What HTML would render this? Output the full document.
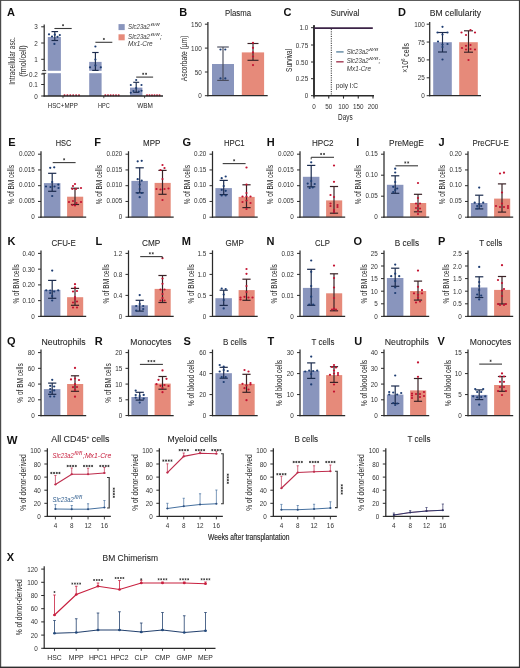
<!DOCTYPE html>
<html><head><meta charset="utf-8"><title>Figure</title>
<style>html,body{margin:0;padding:0;background:#fff;}svg{display:block;will-change:transform;}
text{font-family:"Liberation Sans", sans-serif;}</style></head>
<body>
<svg width="520" height="668" viewBox="0 0 520 668" font-family='"Liberation Sans", sans-serif'>
<rect x="0" y="0" width="520" height="668" fill="#ffffff"/>
<text x="6.9" y="16.3" font-size="11" font-weight="bold" fill="#111">A</text>
<text x="11.6" y="61" font-size="8.8" text-anchor="middle" fill="#1f1f1f" dominant-baseline="central" textLength="47.5" lengthAdjust="spacingAndGlyphs" transform="rotate(-90 11.6 61)" >Intracellular asc.</text>
<text x="23" y="61" font-size="8.8" text-anchor="middle" fill="#1f1f1f" dominant-baseline="central" textLength="31.5" lengthAdjust="spacingAndGlyphs" transform="rotate(-90 23 61)" >(fmol/cell)</text>
<rect x="47.8" y="37" width="13.1" height="59" fill="#8995BD"/>
<rect x="89.2" y="61.9" width="12.4" height="34.1" fill="#8995BD"/>
<rect x="130" y="87.6" width="12.4" height="8.4" fill="#8995BD"/>
<rect x="46" y="70.8" width="60" height="2.4" fill="#ffffff"/>
<line x1="54.8" y1="31.6" x2="54.8" y2="40.5" stroke="#1B2B4D" stroke-width="1.15" />
<line x1="51.5" y1="31.6" x2="58.1" y2="31.6" stroke="#1B2B4D" stroke-width="1.15" />
<line x1="51.5" y1="40.5" x2="58.1" y2="40.5" stroke="#1B2B4D" stroke-width="1.15" />
<line x1="95.4" y1="52.5" x2="95.4" y2="70.4" stroke="#1B2B4D" stroke-width="1.15" />
<line x1="92.2" y1="52.5" x2="98.6" y2="52.5" stroke="#1B2B4D" stroke-width="1.15" />
<line x1="92.2" y1="70.4" x2="98.6" y2="70.4" stroke="#1B2B4D" stroke-width="1.15" />
<line x1="136.2" y1="82.3" x2="136.2" y2="92.3" stroke="#1B2B4D" stroke-width="1.15" />
<line x1="133.2" y1="82.3" x2="139.2" y2="82.3" stroke="#1B2B4D" stroke-width="1.15" />
<line x1="133.2" y1="92.3" x2="139.2" y2="92.3" stroke="#1B2B4D" stroke-width="1.15" />
<circle cx="49" cy="34.3" r="1.1" fill="#1E3D72"/>
<circle cx="59.8" cy="35.1" r="1.1" fill="#1E3D72"/>
<circle cx="54.8" cy="34.7" r="1.1" fill="#1E3D72"/>
<circle cx="54.4" cy="43.9" r="1.1" fill="#1E3D72"/>
<circle cx="52" cy="36.5" r="1.1" fill="#1E3D72"/>
<circle cx="57.5" cy="36.8" r="1.1" fill="#1E3D72"/>
<circle cx="95.4" cy="46.5" r="1.1" fill="#1E3D72"/>
<circle cx="95.4" cy="59.6" r="1.1" fill="#1E3D72"/>
<circle cx="90" cy="67.3" r="1.1" fill="#1E3D72"/>
<circle cx="100.8" cy="67.3" r="1.1" fill="#1E3D72"/>
<circle cx="95.4" cy="65.4" r="1.1" fill="#1E3D72"/>
<circle cx="136.2" cy="80" r="1.05" fill="#1E3D72"/>
<circle cx="130.8" cy="85" r="1.05" fill="#1E3D72"/>
<circle cx="141.5" cy="85" r="1.05" fill="#1E3D72"/>
<circle cx="130.8" cy="92.7" r="1.05" fill="#1E3D72"/>
<circle cx="141.5" cy="90.8" r="1.05" fill="#1E3D72"/>
<circle cx="136.2" cy="88" r="1.05" fill="#1E3D72"/>
<circle cx="133.5" cy="91" r="1.05" fill="#1E3D72"/>
<circle cx="138.8" cy="91.5" r="1.05" fill="#1E3D72"/>
<circle cx="64.5" cy="95.2" r="1" fill="#C41432"/>
<circle cx="67.4" cy="95.2" r="1" fill="#C41432"/>
<circle cx="70.3" cy="95.2" r="1" fill="#C41432"/>
<circle cx="73.2" cy="95.2" r="1" fill="#C41432"/>
<circle cx="76.1" cy="95.2" r="1" fill="#C41432"/>
<circle cx="79" cy="95.2" r="1" fill="#C41432"/>
<circle cx="105.3" cy="95.2" r="1" fill="#C41432"/>
<circle cx="107.98" cy="95.2" r="1" fill="#C41432"/>
<circle cx="110.66" cy="95.2" r="1" fill="#C41432"/>
<circle cx="113.34" cy="95.2" r="1" fill="#C41432"/>
<circle cx="116.02" cy="95.2" r="1" fill="#C41432"/>
<circle cx="118.7" cy="95.2" r="1" fill="#C41432"/>
<circle cx="147" cy="95.2" r="1" fill="#C41432"/>
<circle cx="149.5" cy="95.2" r="1" fill="#C41432"/>
<circle cx="152" cy="95.2" r="1" fill="#C41432"/>
<circle cx="154.5" cy="95.2" r="1" fill="#C41432"/>
<circle cx="157" cy="95.2" r="1" fill="#C41432"/>
<circle cx="159.5" cy="95.2" r="1" fill="#C41432"/>
<line x1="44.2" y1="24.5" x2="44.2" y2="70.6" stroke="#2a2a2a" stroke-width="1.2" />
<line x1="44.2" y1="73.3" x2="44.2" y2="96.6" stroke="#2a2a2a" stroke-width="1.2" />
<line x1="42.2" y1="70.6" x2="46.2" y2="70.6" stroke="#2a2a2a" stroke-width="0.9" />
<line x1="42.2" y1="73.3" x2="46.2" y2="73.3" stroke="#2a2a2a" stroke-width="0.9" />
<line x1="41.2" y1="26.8" x2="44.2" y2="26.8" stroke="#2a2a2a" stroke-width="1" />
<text x="37.9" y="26.8" font-size="6.9" text-anchor="end" fill="#333333" dominant-baseline="central" textLength="3.53" lengthAdjust="spacingAndGlyphs" >3</text>
<line x1="41.2" y1="43" x2="44.2" y2="43" stroke="#2a2a2a" stroke-width="1" />
<text x="37.9" y="43" font-size="6.9" text-anchor="end" fill="#333333" dominant-baseline="central" textLength="3.53" lengthAdjust="spacingAndGlyphs" >2</text>
<line x1="41.2" y1="59.3" x2="44.2" y2="59.3" stroke="#2a2a2a" stroke-width="1" />
<text x="37.9" y="59.3" font-size="6.9" text-anchor="end" fill="#333333" dominant-baseline="central" textLength="3.53" lengthAdjust="spacingAndGlyphs" >1</text>
<line x1="41.2" y1="74" x2="44.2" y2="74" stroke="#2a2a2a" stroke-width="1" />
<text x="37.9" y="74" font-size="6.9" text-anchor="end" fill="#333333" dominant-baseline="central" textLength="8.82" lengthAdjust="spacingAndGlyphs" >0.2</text>
<line x1="41.2" y1="84.5" x2="44.2" y2="84.5" stroke="#2a2a2a" stroke-width="1" />
<text x="37.9" y="84.5" font-size="6.9" text-anchor="end" fill="#333333" dominant-baseline="central" textLength="8.82" lengthAdjust="spacingAndGlyphs" >0.1</text>
<line x1="41.2" y1="96" x2="44.2" y2="96" stroke="#2a2a2a" stroke-width="1" />
<text x="37.9" y="96" font-size="6.9" text-anchor="end" fill="#333333" dominant-baseline="central" textLength="3.53" lengthAdjust="spacingAndGlyphs" >0</text>
<line x1="43.6" y1="96" x2="163" y2="96" stroke="#2a2a2a" stroke-width="1.3" />
<line x1="63" y1="96" x2="63" y2="98.2" stroke="#2a2a2a" stroke-width="0.8" />
<line x1="103.8" y1="96" x2="103.8" y2="98.2" stroke="#2a2a2a" stroke-width="0.8" />
<line x1="144.6" y1="96" x2="144.6" y2="98.2" stroke="#2a2a2a" stroke-width="0.8" />
<line x1="54.4" y1="28.5" x2="71.7" y2="28.5" stroke="#3a3a3a" stroke-width="1.1" />
<path d="M63.05 24.15L63.05 26.25M63.96 24.67L62.14 25.73M63.96 25.72L62.14 24.68" stroke="#3a3a3a" stroke-width="0.75" fill="none"/>
<line x1="95.4" y1="42.3" x2="112.3" y2="42.3" stroke="#3a3a3a" stroke-width="1.1" />
<path d="M103.85 37.95L103.85 40.05M104.76 38.48L102.94 39.52M104.76 39.52L102.94 38.48" stroke="#3a3a3a" stroke-width="0.75" fill="none"/>
<line x1="136.2" y1="77.1" x2="153.1" y2="77.1" stroke="#3a3a3a" stroke-width="1.1" />
<path d="M143.2 72.75L143.2 74.85M144.11 73.27L142.29 74.33M144.11 74.33L142.29 73.27" stroke="#3a3a3a" stroke-width="0.75" fill="none"/>
<path d="M146.1 72.75L146.1 74.85M147.01 73.27L145.19 74.33M147.01 74.33L145.19 73.27" stroke="#3a3a3a" stroke-width="0.75" fill="none"/>
<text x="62.8" y="105.4" font-size="7.2" text-anchor="middle" fill="#1f1f1f" dominant-baseline="central" textLength="30" lengthAdjust="spacingAndGlyphs" >HSC+MPP</text>
<text x="103.8" y="105.4" font-size="7.2" text-anchor="middle" fill="#1f1f1f" dominant-baseline="central" textLength="11.7" lengthAdjust="spacingAndGlyphs" >HPC</text>
<text x="145" y="105.4" font-size="7.2" text-anchor="middle" fill="#1f1f1f" dominant-baseline="central" textLength="15.7" lengthAdjust="spacingAndGlyphs" >WBM</text>
<rect x="118.5" y="24.1" width="6.2" height="6" fill="#8995BD"/>
<rect x="118.5" y="34.3" width="6.2" height="6" fill="#E68A7A"/>
<text x="128.1" y="28.7" font-size="6.8" font-style="italic" fill="#383838" textLength="21.9" lengthAdjust="spacingAndGlyphs">Slc23a2</text>
<text x="150.4" y="25.7" font-size="4.35" font-style="italic" fill="#383838" textLength="9.2" lengthAdjust="spacingAndGlyphs">fl/fl</text>
<text x="128.1" y="38.8" font-size="6.8" font-style="italic" fill="#383838" textLength="21.9" lengthAdjust="spacingAndGlyphs">Slc23a2</text>
<text x="150.4" y="35.8" font-size="4.35" font-style="italic" fill="#383838" textLength="9.2" lengthAdjust="spacingAndGlyphs">fl/fl</text>
<text x="159.9" y="38.8" font-size="6.8" font-style="italic" fill="#383838">;</text>
<text x="128.1" y="45.8" font-size="6.8" font-style="italic" fill="#383838" textLength="24.6" lengthAdjust="spacingAndGlyphs">Mx1-Cre</text>
<text x="179.3" y="16.3" font-size="11" font-weight="bold" fill="#111">B</text>
<text x="238" y="13.1" font-size="8.5" text-anchor="middle" fill="#262626" dominant-baseline="central" textLength="26" lengthAdjust="spacingAndGlyphs" stroke="#262626" stroke-width="0.08">Plasma</text>
<rect x="212" y="64" width="22" height="31.7" fill="#8995BD"/>
<rect x="241.8" y="52.4" width="22.3" height="43.3" fill="#E68A7A"/>
<line x1="223" y1="47" x2="223" y2="80.4" stroke="#4a4d5e" stroke-width="1.15" />
<line x1="217.2" y1="47" x2="228.8" y2="47" stroke="#4a4d5e" stroke-width="1.15" />
<line x1="217.2" y1="80.4" x2="228.8" y2="80.4" stroke="#4a4d5e" stroke-width="1.15" />
<line x1="253" y1="43.5" x2="253" y2="60.3" stroke="#3A2226" stroke-width="1.15" />
<line x1="247.5" y1="43.5" x2="258.5" y2="43.5" stroke="#3A2226" stroke-width="1.15" />
<line x1="247.5" y1="60.3" x2="258.5" y2="60.3" stroke="#3A2226" stroke-width="1.15" />
<circle cx="220.5" cy="49.5" r="1.1" fill="#1E3D72"/>
<circle cx="225.3" cy="49.5" r="1.1" fill="#1E3D72"/>
<circle cx="220.5" cy="78.4" r="1.1" fill="#1E3D72"/>
<circle cx="225.3" cy="78.4" r="1.1" fill="#1E3D72"/>
<circle cx="253" cy="42.8" r="1.1" fill="#C41432"/>
<circle cx="253" cy="47.8" r="1.1" fill="#C41432"/>
<circle cx="253" cy="52.4" r="1.1" fill="#C41432"/>
<circle cx="253" cy="56.5" r="1.1" fill="#C41432"/>
<circle cx="253" cy="65.1" r="1.1" fill="#C41432"/>
<line x1="207.9" y1="22" x2="207.9" y2="96.3" stroke="#2a2a2a" stroke-width="1.25" />
<line x1="204.9" y1="24.2" x2="207.9" y2="24.2" stroke="#2a2a2a" stroke-width="1" />
<text x="201.7" y="24.2" font-size="6.9" text-anchor="end" fill="#333333" dominant-baseline="central" textLength="10.59" lengthAdjust="spacingAndGlyphs" >150</text>
<line x1="204.9" y1="48.1" x2="207.9" y2="48.1" stroke="#2a2a2a" stroke-width="1" />
<text x="201.7" y="48.1" font-size="6.9" text-anchor="end" fill="#333333" dominant-baseline="central" textLength="10.59" lengthAdjust="spacingAndGlyphs" >100</text>
<line x1="204.9" y1="72" x2="207.9" y2="72" stroke="#2a2a2a" stroke-width="1" />
<text x="201.7" y="72" font-size="6.9" text-anchor="end" fill="#333333" dominant-baseline="central" textLength="7.06" lengthAdjust="spacingAndGlyphs" >50</text>
<line x1="204.9" y1="95.7" x2="207.9" y2="95.7" stroke="#2a2a2a" stroke-width="1" />
<text x="201.7" y="95.7" font-size="6.9" text-anchor="end" fill="#333333" dominant-baseline="central" textLength="3.53" lengthAdjust="spacingAndGlyphs" >0</text>
<line x1="207.3" y1="95.7" x2="267.7" y2="95.7" stroke="#2a2a2a" stroke-width="1.3" />
<text x="183.8" y="58.4" font-size="8.4" text-anchor="middle" fill="#1f1f1f" dominant-baseline="central" textLength="45.8" lengthAdjust="spacingAndGlyphs" transform="rotate(-90 183.8 58.4)" >Ascorbate (µm)</text>
<text x="283.4" y="16.3" font-size="11" font-weight="bold" fill="#111">C</text>
<text x="345.1" y="13.1" font-size="8.5" text-anchor="middle" fill="#262626" dominant-baseline="central" textLength="28.6" lengthAdjust="spacingAndGlyphs" stroke="#262626" stroke-width="0.08">Survival</text>
<line x1="314" y1="25.3" x2="314" y2="96.3" stroke="#2a2a2a" stroke-width="1.25" />
<line x1="311" y1="27.7" x2="314" y2="27.7" stroke="#2a2a2a" stroke-width="1" />
<text x="308.2" y="27.7" font-size="6.9" text-anchor="end" fill="#333333" dominant-baseline="central" textLength="8.82" lengthAdjust="spacingAndGlyphs" >1.0</text>
<line x1="311" y1="45" x2="314" y2="45" stroke="#2a2a2a" stroke-width="1" />
<text x="308.2" y="45" font-size="6.9" text-anchor="end" fill="#333333" dominant-baseline="central" textLength="12.36" lengthAdjust="spacingAndGlyphs" >0.75</text>
<line x1="311" y1="62" x2="314" y2="62" stroke="#2a2a2a" stroke-width="1" />
<text x="308.2" y="62" font-size="6.9" text-anchor="end" fill="#333333" dominant-baseline="central" textLength="12.36" lengthAdjust="spacingAndGlyphs" >0.50</text>
<line x1="311" y1="78.7" x2="314" y2="78.7" stroke="#2a2a2a" stroke-width="1" />
<text x="308.2" y="78.7" font-size="6.9" text-anchor="end" fill="#333333" dominant-baseline="central" textLength="12.36" lengthAdjust="spacingAndGlyphs" >0.25</text>
<line x1="311" y1="95.7" x2="314" y2="95.7" stroke="#2a2a2a" stroke-width="1" />
<text x="308.2" y="95.7" font-size="6.9" text-anchor="end" fill="#333333" dominant-baseline="central" textLength="3.53" lengthAdjust="spacingAndGlyphs" >0</text>
<line x1="314" y1="25.3" x2="314" y2="96.4" stroke="#2a2a2a" stroke-width="1.7" />
<line x1="313.2" y1="95.8" x2="374" y2="95.8" stroke="#2a2a2a" stroke-width="1.5" />
<line x1="314" y1="95.8" x2="314" y2="98.6" stroke="#2a2a2a" stroke-width="1.1" />
<text x="314" y="106.2" font-size="6.9" text-anchor="middle" fill="#333333" dominant-baseline="central" textLength="3.53" lengthAdjust="spacingAndGlyphs" >0</text>
<line x1="328.75" y1="95.8" x2="328.75" y2="98.6" stroke="#2a2a2a" stroke-width="1.1" />
<text x="328.75" y="106.2" font-size="6.9" text-anchor="middle" fill="#333333" dominant-baseline="central" textLength="7.06" lengthAdjust="spacingAndGlyphs" >50</text>
<line x1="343.5" y1="95.8" x2="343.5" y2="98.6" stroke="#2a2a2a" stroke-width="1.1" />
<text x="343.5" y="106.2" font-size="6.9" text-anchor="middle" fill="#333333" dominant-baseline="central" textLength="10.59" lengthAdjust="spacingAndGlyphs" >100</text>
<line x1="358.25" y1="95.8" x2="358.25" y2="98.6" stroke="#2a2a2a" stroke-width="1.1" />
<text x="358.25" y="106.2" font-size="6.9" text-anchor="middle" fill="#333333" dominant-baseline="central" textLength="10.59" lengthAdjust="spacingAndGlyphs" >150</text>
<line x1="373" y1="95.8" x2="373" y2="98.6" stroke="#2a2a2a" stroke-width="1.1" />
<text x="373" y="106.2" font-size="6.9" text-anchor="middle" fill="#333333" dominant-baseline="central" textLength="10.59" lengthAdjust="spacingAndGlyphs" >200</text>
<text x="345.3" y="116.9" font-size="9.2" text-anchor="middle" fill="#1f1f1f" dominant-baseline="central" textLength="14.6" lengthAdjust="spacingAndGlyphs" >Days</text>
<text x="288.6" y="60.4" font-size="9.2" text-anchor="middle" fill="#1f1f1f" dominant-baseline="central" textLength="23" lengthAdjust="spacingAndGlyphs" transform="rotate(-90 288.6 60.4)" >Survival</text>
<line x1="331.3" y1="29" x2="331.3" y2="95.5" stroke="#2a2a2a" stroke-width="1" stroke-dasharray="1.1 1.2"/>
<line x1="314" y1="28.1" x2="372.8" y2="28.1" stroke="#3b2346" stroke-width="1.9" />
<line x1="336.2" y1="51.9" x2="343.6" y2="51.9" stroke="#6a8fa8" stroke-width="1.5" />
<line x1="336.2" y1="61.8" x2="343.6" y2="61.8" stroke="#a8465e" stroke-width="1.5" />
<text x="346.7" y="53.5" font-size="6.8" font-style="italic" fill="#383838" textLength="21.9" lengthAdjust="spacingAndGlyphs">Slc23a2</text>
<text x="369" y="50.5" font-size="4.35" font-style="italic" fill="#383838" textLength="9.2" lengthAdjust="spacingAndGlyphs">fl/fl</text>
<text x="346.7" y="63.4" font-size="6.8" font-style="italic" fill="#383838" textLength="21.9" lengthAdjust="spacingAndGlyphs">Slc23a2</text>
<text x="369" y="60.4" font-size="4.35" font-style="italic" fill="#383838" textLength="9.2" lengthAdjust="spacingAndGlyphs">fl/fl</text>
<text x="378.5" y="63.4" font-size="6.8" font-style="italic" fill="#383838">;</text>
<text x="346.7" y="71.3" font-size="6.8" font-style="italic" fill="#383838" textLength="24.3" lengthAdjust="spacingAndGlyphs">Mx1-Cre</text>
<text x="347" y="85.7" font-size="7.8" text-anchor="middle" fill="#1f1f1f" dominant-baseline="central" textLength="22" lengthAdjust="spacingAndGlyphs" >poly I:C</text>
<text x="398.1" y="16.3" font-size="11" font-weight="bold" fill="#111">D</text>
<text x="455.4" y="13.1" font-size="8.5" text-anchor="middle" fill="#262626" dominant-baseline="central" textLength="51.2" lengthAdjust="spacingAndGlyphs" stroke="#262626" stroke-width="0.08">BM cellularity</text>
<rect x="433.2" y="42.2" width="18.6" height="53.5" fill="#8995BD"/>
<rect x="459.2" y="42.2" width="18.6" height="53.5" fill="#E68A7A"/>
<line x1="442.5" y1="32.5" x2="442.5" y2="52" stroke="#1B2B4D" stroke-width="1.15" />
<line x1="438" y1="32.5" x2="447" y2="32.5" stroke="#1B2B4D" stroke-width="1.15" />
<line x1="438" y1="52" x2="447" y2="52" stroke="#1B2B4D" stroke-width="1.15" />
<line x1="468.5" y1="30.8" x2="468.5" y2="52.2" stroke="#3A2226" stroke-width="1.15" />
<line x1="464" y1="30.8" x2="473" y2="30.8" stroke="#3A2226" stroke-width="1.15" />
<line x1="464" y1="52.2" x2="473" y2="52.2" stroke="#3A2226" stroke-width="1.15" />
<circle cx="442.5" cy="26.8" r="1.1" fill="#1E3D72"/>
<circle cx="437.5" cy="32.5" r="1.1" fill="#1E3D72"/>
<circle cx="447.5" cy="32.5" r="1.1" fill="#1E3D72"/>
<circle cx="442.5" cy="34.5" r="1.1" fill="#1E3D72"/>
<circle cx="438" cy="41.5" r="1.1" fill="#1E3D72"/>
<circle cx="447.5" cy="44" r="1.1" fill="#1E3D72"/>
<circle cx="442.5" cy="44.5" r="1.1" fill="#1E3D72"/>
<circle cx="442.5" cy="47" r="1.1" fill="#1E3D72"/>
<circle cx="442.5" cy="59.5" r="1.1" fill="#1E3D72"/>
<circle cx="461.5" cy="32.5" r="1.1" fill="#C41432"/>
<circle cx="475" cy="32.5" r="1.1" fill="#C41432"/>
<circle cx="466" cy="35" r="1.1" fill="#C41432"/>
<circle cx="470.5" cy="30" r="1.1" fill="#C41432"/>
<circle cx="462" cy="48" r="1.1" fill="#C41432"/>
<circle cx="466" cy="45.8" r="1.1" fill="#C41432"/>
<circle cx="470.5" cy="45" r="1.1" fill="#C41432"/>
<circle cx="466" cy="49.5" r="1.1" fill="#C41432"/>
<circle cx="470.5" cy="49" r="1.1" fill="#C41432"/>
<circle cx="475" cy="49.5" r="1.1" fill="#C41432"/>
<circle cx="468.5" cy="60" r="1.1" fill="#C41432"/>
<line x1="429.7" y1="22" x2="429.7" y2="96.3" stroke="#2a2a2a" stroke-width="1.25" />
<line x1="426.7" y1="24.2" x2="429.7" y2="24.2" stroke="#2a2a2a" stroke-width="1" />
<text x="424.9" y="24.2" font-size="6.9" text-anchor="end" fill="#333333" dominant-baseline="central" textLength="10.59" lengthAdjust="spacingAndGlyphs" >100</text>
<line x1="426.7" y1="42.05" x2="429.7" y2="42.05" stroke="#2a2a2a" stroke-width="1" />
<text x="424.9" y="42.05" font-size="6.9" text-anchor="end" fill="#333333" dominant-baseline="central" textLength="7.06" lengthAdjust="spacingAndGlyphs" >75</text>
<line x1="426.7" y1="59.9" x2="429.7" y2="59.9" stroke="#2a2a2a" stroke-width="1" />
<text x="424.9" y="59.9" font-size="6.9" text-anchor="end" fill="#333333" dominant-baseline="central" textLength="7.06" lengthAdjust="spacingAndGlyphs" >50</text>
<line x1="426.7" y1="77.8" x2="429.7" y2="77.8" stroke="#2a2a2a" stroke-width="1" />
<text x="424.9" y="77.8" font-size="6.9" text-anchor="end" fill="#333333" dominant-baseline="central" textLength="7.06" lengthAdjust="spacingAndGlyphs" >25</text>
<line x1="426.7" y1="95.7" x2="429.7" y2="95.7" stroke="#2a2a2a" stroke-width="1" />
<text x="424.9" y="95.7" font-size="6.9" text-anchor="end" fill="#333333" dominant-baseline="central" textLength="3.53" lengthAdjust="spacingAndGlyphs" >0</text>
<line x1="429.1" y1="95.7" x2="481" y2="95.7" stroke="#2a2a2a" stroke-width="1.3" />
<text x="0" y="0" font-size="8.2" fill="#1f1f1f" text-anchor="middle" dominant-baseline="central" transform="translate(405.9 57.8) rotate(-90)" textLength="29.7" lengthAdjust="spacingAndGlyphs">×10<tspan font-size="5.2" dy="-2.8">6</tspan><tspan dy="2.8"> cells</tspan></text>
<text x="8.3" y="145.7" font-size="11" font-weight="bold" fill="#111">E</text>
<text x="63.5" y="143.3" font-size="8.5" text-anchor="middle" fill="#262626" dominant-baseline="central" textLength="15.6" lengthAdjust="spacingAndGlyphs" stroke="#262626" stroke-width="0.08">HSC</text>
<rect x="43.9" y="183.1" width="16.5" height="34.1" fill="#8995BD"/>
<rect x="67.1" y="196.7" width="16.1" height="20.5" fill="#E68A7A"/>
<line x1="52.2" y1="173.3" x2="52.2" y2="191.3" stroke="#1B2B4D" stroke-width="1.2" />
<line x1="48.1" y1="173.3" x2="56.3" y2="173.3" stroke="#1B2B4D" stroke-width="1.2" />
<line x1="48.1" y1="191.3" x2="56.3" y2="191.3" stroke="#1B2B4D" stroke-width="1.2" />
<line x1="75" y1="188.2" x2="75" y2="204.5" stroke="#3A2226" stroke-width="1.2" />
<line x1="70.9" y1="188.2" x2="79.1" y2="188.2" stroke="#3A2226" stroke-width="1.2" />
<line x1="70.9" y1="204.5" x2="79.1" y2="204.5" stroke="#3A2226" stroke-width="1.2" />
<circle cx="50.2" cy="167.8" r="1.12" fill="#1E3D72"/>
<circle cx="54.2" cy="167.3" r="1.12" fill="#1E3D72"/>
<circle cx="46" cy="186.5" r="1.12" fill="#1E3D72"/>
<circle cx="50.5" cy="187" r="1.12" fill="#1E3D72"/>
<circle cx="54.5" cy="186.5" r="1.12" fill="#1E3D72"/>
<circle cx="58.3" cy="184.6" r="1.12" fill="#1E3D72"/>
<circle cx="58.5" cy="188" r="1.12" fill="#1E3D72"/>
<circle cx="52.2" cy="196" r="1.12" fill="#1E3D72"/>
<circle cx="52.2" cy="182" r="1.12" fill="#1E3D72"/>
<circle cx="75" cy="184" r="1.12" fill="#C41432"/>
<circle cx="73" cy="186" r="1.12" fill="#C41432"/>
<circle cx="72.4" cy="189" r="1.12" fill="#C41432"/>
<circle cx="76" cy="189" r="1.12" fill="#C41432"/>
<circle cx="81" cy="188" r="1.12" fill="#C41432"/>
<circle cx="69" cy="202" r="1.12" fill="#C41432"/>
<circle cx="73" cy="201" r="1.12" fill="#C41432"/>
<circle cx="76.5" cy="203" r="1.12" fill="#C41432"/>
<circle cx="81" cy="202" r="1.12" fill="#C41432"/>
<circle cx="72.4" cy="205" r="1.12" fill="#C41432"/>
<circle cx="75" cy="205.5" r="1.12" fill="#C41432"/>
<line x1="41" y1="151.2" x2="41" y2="217.8" stroke="#2a2a2a" stroke-width="1.25" />
<line x1="38" y1="154.2" x2="41" y2="154.2" stroke="#2a2a2a" stroke-width="1" />
<text x="34.8" y="153.4" font-size="6.9" text-anchor="end" fill="#333333" dominant-baseline="central" textLength="15.89" lengthAdjust="spacingAndGlyphs" >0.020</text>
<line x1="38" y1="169.95" x2="41" y2="169.95" stroke="#2a2a2a" stroke-width="1" />
<text x="34.8" y="169.15" font-size="6.9" text-anchor="end" fill="#333333" dominant-baseline="central" textLength="15.89" lengthAdjust="spacingAndGlyphs" >0.015</text>
<line x1="38" y1="185.7" x2="41" y2="185.7" stroke="#2a2a2a" stroke-width="1" />
<text x="34.8" y="184.9" font-size="6.9" text-anchor="end" fill="#333333" dominant-baseline="central" textLength="15.89" lengthAdjust="spacingAndGlyphs" >0.010</text>
<line x1="38" y1="201.45" x2="41" y2="201.45" stroke="#2a2a2a" stroke-width="1" />
<text x="34.8" y="200.65" font-size="6.9" text-anchor="end" fill="#333333" dominant-baseline="central" textLength="15.89" lengthAdjust="spacingAndGlyphs" >0.005</text>
<line x1="38" y1="217.2" x2="41" y2="217.2" stroke="#2a2a2a" stroke-width="1" />
<text x="34.8" y="216.4" font-size="6.9" text-anchor="end" fill="#333333" dominant-baseline="central" textLength="3.53" lengthAdjust="spacingAndGlyphs" >0</text>
<line x1="40.4" y1="217.2" x2="86.2" y2="217.2" stroke="#2a2a2a" stroke-width="1.3" />
<text x="11.6" y="184.6" font-size="8.2" text-anchor="middle" fill="#1f1f1f" dominant-baseline="central" textLength="39.3" lengthAdjust="spacingAndGlyphs" transform="rotate(-90 11.6 184.6)" >% of BM cells</text>
<line x1="52.7" y1="162.6" x2="75.6" y2="162.6" stroke="#3a3a3a" stroke-width="1.1" />
<path d="M64.15 158.25L64.15 160.35M65.06 158.77L63.24 159.82M65.06 159.82L63.24 158.77" stroke="#3a3a3a" stroke-width="0.75" fill="none"/>
<text x="94.3" y="145.7" font-size="11" font-weight="bold" fill="#111">F</text>
<text x="151.65" y="143.3" font-size="8.5" text-anchor="middle" fill="#262626" dominant-baseline="central" textLength="17.3" lengthAdjust="spacingAndGlyphs" stroke="#262626" stroke-width="0.08">MPP</text>
<rect x="131.4" y="180.9" width="16.5" height="36.3" fill="#8995BD"/>
<rect x="154.6" y="182.9" width="16.1" height="34.3" fill="#E68A7A"/>
<line x1="139.7" y1="167.8" x2="139.7" y2="192.8" stroke="#1B2B4D" stroke-width="1.2" />
<line x1="135.6" y1="167.8" x2="143.8" y2="167.8" stroke="#1B2B4D" stroke-width="1.2" />
<line x1="135.6" y1="192.8" x2="143.8" y2="192.8" stroke="#1B2B4D" stroke-width="1.2" />
<line x1="162.5" y1="170.4" x2="162.5" y2="194.3" stroke="#3A2226" stroke-width="1.2" />
<line x1="158.4" y1="170.4" x2="166.6" y2="170.4" stroke="#3A2226" stroke-width="1.2" />
<line x1="158.4" y1="194.3" x2="166.6" y2="194.3" stroke="#3A2226" stroke-width="1.2" />
<circle cx="137.7" cy="161.3" r="1.12" fill="#1E3D72"/>
<circle cx="141.7" cy="160.8" r="1.12" fill="#1E3D72"/>
<circle cx="137.7" cy="179.2" r="1.12" fill="#1E3D72"/>
<circle cx="141.7" cy="180.6" r="1.12" fill="#1E3D72"/>
<circle cx="139.7" cy="184.5" r="1.12" fill="#1E3D72"/>
<circle cx="139.7" cy="189" r="1.12" fill="#1E3D72"/>
<circle cx="137.7" cy="193" r="1.12" fill="#1E3D72"/>
<circle cx="141.7" cy="193" r="1.12" fill="#1E3D72"/>
<circle cx="139.7" cy="197.2" r="1.12" fill="#1E3D72"/>
<circle cx="162.5" cy="165" r="1.12" fill="#C41432"/>
<circle cx="164.5" cy="168" r="1.12" fill="#C41432"/>
<circle cx="160.5" cy="170" r="1.12" fill="#C41432"/>
<circle cx="162.5" cy="179" r="1.12" fill="#C41432"/>
<circle cx="156.5" cy="189" r="1.12" fill="#C41432"/>
<circle cx="160.5" cy="189.5" r="1.12" fill="#C41432"/>
<circle cx="164.5" cy="189" r="1.12" fill="#C41432"/>
<circle cx="168.5" cy="188.5" r="1.12" fill="#C41432"/>
<circle cx="162.5" cy="200" r="1.12" fill="#C41432"/>
<line x1="128.5" y1="151.2" x2="128.5" y2="217.8" stroke="#2a2a2a" stroke-width="1.25" />
<line x1="125.5" y1="154.2" x2="128.5" y2="154.2" stroke="#2a2a2a" stroke-width="1" />
<text x="122.3" y="153.4" font-size="6.9" text-anchor="end" fill="#333333" dominant-baseline="central" textLength="15.89" lengthAdjust="spacingAndGlyphs" >0.020</text>
<line x1="125.5" y1="169.95" x2="128.5" y2="169.95" stroke="#2a2a2a" stroke-width="1" />
<text x="122.3" y="169.15" font-size="6.9" text-anchor="end" fill="#333333" dominant-baseline="central" textLength="15.89" lengthAdjust="spacingAndGlyphs" >0.015</text>
<line x1="125.5" y1="185.7" x2="128.5" y2="185.7" stroke="#2a2a2a" stroke-width="1" />
<text x="122.3" y="184.9" font-size="6.9" text-anchor="end" fill="#333333" dominant-baseline="central" textLength="15.89" lengthAdjust="spacingAndGlyphs" >0.010</text>
<line x1="125.5" y1="201.45" x2="128.5" y2="201.45" stroke="#2a2a2a" stroke-width="1" />
<text x="122.3" y="200.65" font-size="6.9" text-anchor="end" fill="#333333" dominant-baseline="central" textLength="15.89" lengthAdjust="spacingAndGlyphs" >0.005</text>
<line x1="125.5" y1="217.2" x2="128.5" y2="217.2" stroke="#2a2a2a" stroke-width="1" />
<text x="122.3" y="216.4" font-size="6.9" text-anchor="end" fill="#333333" dominant-baseline="central" textLength="3.53" lengthAdjust="spacingAndGlyphs" >0</text>
<line x1="127.9" y1="217.2" x2="173.7" y2="217.2" stroke="#2a2a2a" stroke-width="1.3" />
<text x="99.4" y="184.6" font-size="8.2" text-anchor="middle" fill="#1f1f1f" dominant-baseline="central" textLength="39.3" lengthAdjust="spacingAndGlyphs" transform="rotate(-90 99.4 184.6)" >% of BM cells</text>
<text x="182.5" y="145.7" font-size="11" font-weight="bold" fill="#111">G</text>
<text x="234.3" y="143.3" font-size="8.5" text-anchor="middle" fill="#262626" dominant-baseline="central" textLength="20.8" lengthAdjust="spacingAndGlyphs" stroke="#262626" stroke-width="0.08">HPC1</text>
<rect x="215.4" y="188.1" width="16.5" height="29.1" fill="#8995BD"/>
<rect x="238.6" y="196.9" width="16.1" height="20.3" fill="#E68A7A"/>
<line x1="223.7" y1="180.4" x2="223.7" y2="194.6" stroke="#1B2B4D" stroke-width="1.2" />
<line x1="219.6" y1="180.4" x2="227.8" y2="180.4" stroke="#1B2B4D" stroke-width="1.2" />
<line x1="219.6" y1="194.6" x2="227.8" y2="194.6" stroke="#1B2B4D" stroke-width="1.2" />
<line x1="246.5" y1="184.8" x2="246.5" y2="207.6" stroke="#3A2226" stroke-width="1.2" />
<line x1="242.4" y1="184.8" x2="250.6" y2="184.8" stroke="#3A2226" stroke-width="1.2" />
<line x1="242.4" y1="207.6" x2="250.6" y2="207.6" stroke="#3A2226" stroke-width="1.2" />
<circle cx="221.7" cy="178.2" r="1.12" fill="#1E3D72"/>
<circle cx="225.7" cy="176.5" r="1.12" fill="#1E3D72"/>
<circle cx="221.7" cy="189.8" r="1.12" fill="#1E3D72"/>
<circle cx="225.7" cy="190.8" r="1.12" fill="#1E3D72"/>
<circle cx="221.7" cy="195.5" r="1.12" fill="#1E3D72"/>
<circle cx="225.7" cy="195.5" r="1.12" fill="#1E3D72"/>
<circle cx="223.7" cy="186" r="1.12" fill="#1E3D72"/>
<circle cx="246.5" cy="167.5" r="1.12" fill="#C41432"/>
<circle cx="246.5" cy="184.5" r="1.12" fill="#C41432"/>
<circle cx="246.5" cy="193" r="1.12" fill="#C41432"/>
<circle cx="242.5" cy="196.5" r="1.12" fill="#C41432"/>
<circle cx="246.5" cy="196.5" r="1.12" fill="#C41432"/>
<circle cx="250.5" cy="196.5" r="1.12" fill="#C41432"/>
<circle cx="242.5" cy="202" r="1.12" fill="#C41432"/>
<circle cx="250.5" cy="203" r="1.12" fill="#C41432"/>
<circle cx="246.5" cy="200.5" r="1.12" fill="#C41432"/>
<circle cx="246.5" cy="209" r="1.12" fill="#C41432"/>
<line x1="212.5" y1="151.2" x2="212.5" y2="217.8" stroke="#2a2a2a" stroke-width="1.25" />
<line x1="209.5" y1="154.2" x2="212.5" y2="154.2" stroke="#2a2a2a" stroke-width="1" />
<text x="206.3" y="153.4" font-size="6.9" text-anchor="end" fill="#333333" dominant-baseline="central" textLength="12.36" lengthAdjust="spacingAndGlyphs" >0.20</text>
<line x1="209.5" y1="169.95" x2="212.5" y2="169.95" stroke="#2a2a2a" stroke-width="1" />
<text x="206.3" y="169.15" font-size="6.9" text-anchor="end" fill="#333333" dominant-baseline="central" textLength="12.36" lengthAdjust="spacingAndGlyphs" >0.15</text>
<line x1="209.5" y1="185.7" x2="212.5" y2="185.7" stroke="#2a2a2a" stroke-width="1" />
<text x="206.3" y="184.9" font-size="6.9" text-anchor="end" fill="#333333" dominant-baseline="central" textLength="12.36" lengthAdjust="spacingAndGlyphs" >0.10</text>
<line x1="209.5" y1="201.45" x2="212.5" y2="201.45" stroke="#2a2a2a" stroke-width="1" />
<text x="206.3" y="200.65" font-size="6.9" text-anchor="end" fill="#333333" dominant-baseline="central" textLength="12.36" lengthAdjust="spacingAndGlyphs" >0.05</text>
<line x1="209.5" y1="217.2" x2="212.5" y2="217.2" stroke="#2a2a2a" stroke-width="1" />
<text x="206.3" y="216.4" font-size="6.9" text-anchor="end" fill="#333333" dominant-baseline="central" textLength="3.53" lengthAdjust="spacingAndGlyphs" >0</text>
<line x1="211.9" y1="217.2" x2="257.7" y2="217.2" stroke="#2a2a2a" stroke-width="1.3" />
<text x="187.6" y="184.6" font-size="8.2" text-anchor="middle" fill="#1f1f1f" dominant-baseline="central" textLength="39.3" lengthAdjust="spacingAndGlyphs" transform="rotate(-90 187.6 184.6)" >% of BM cells</text>
<line x1="222.7" y1="163.6" x2="245.6" y2="163.6" stroke="#3a3a3a" stroke-width="1.1" />
<path d="M234.15 159.25L234.15 161.35M235.06 159.77L233.24 160.82M235.06 160.82L233.24 159.77" stroke="#3a3a3a" stroke-width="0.75" fill="none"/>
<text x="266.7" y="145.7" font-size="11" font-weight="bold" fill="#111">H</text>
<text x="322.7" y="143.3" font-size="8.5" text-anchor="middle" fill="#262626" dominant-baseline="central" textLength="21.6" lengthAdjust="spacingAndGlyphs" stroke="#262626" stroke-width="0.08">HPC2</text>
<rect x="302.9" y="176.8" width="16.5" height="40.4" fill="#8995BD"/>
<rect x="326.1" y="200.4" width="16.1" height="16.8" fill="#E68A7A"/>
<line x1="311.2" y1="165.4" x2="311.2" y2="186.8" stroke="#1B2B4D" stroke-width="1.2" />
<line x1="307.1" y1="165.4" x2="315.3" y2="165.4" stroke="#1B2B4D" stroke-width="1.2" />
<line x1="307.1" y1="186.8" x2="315.3" y2="186.8" stroke="#1B2B4D" stroke-width="1.2" />
<line x1="334" y1="186.5" x2="334" y2="213.2" stroke="#3A2226" stroke-width="1.2" />
<line x1="329.9" y1="186.5" x2="338.1" y2="186.5" stroke="#3A2226" stroke-width="1.2" />
<line x1="329.9" y1="213.2" x2="338.1" y2="213.2" stroke="#3A2226" stroke-width="1.2" />
<circle cx="311.2" cy="162.3" r="1.12" fill="#1E3D72"/>
<circle cx="307.7" cy="183.6" r="1.12" fill="#1E3D72"/>
<circle cx="314.7" cy="184" r="1.12" fill="#1E3D72"/>
<circle cx="311.2" cy="181" r="1.12" fill="#1E3D72"/>
<circle cx="309.7" cy="188" r="1.12" fill="#1E3D72"/>
<circle cx="312.7" cy="187.5" r="1.12" fill="#1E3D72"/>
<circle cx="334" cy="165.5" r="1.12" fill="#C41432"/>
<circle cx="334" cy="181.8" r="1.12" fill="#C41432"/>
<circle cx="330.5" cy="195" r="1.12" fill="#C41432"/>
<circle cx="334" cy="197" r="1.12" fill="#C41432"/>
<circle cx="330.5" cy="203.5" r="1.12" fill="#C41432"/>
<circle cx="330.5" cy="206" r="1.12" fill="#C41432"/>
<circle cx="337.5" cy="205" r="1.12" fill="#C41432"/>
<circle cx="337.5" cy="207" r="1.12" fill="#C41432"/>
<circle cx="334" cy="210" r="1.12" fill="#C41432"/>
<circle cx="334" cy="212" r="1.12" fill="#C41432"/>
<line x1="300" y1="151.2" x2="300" y2="217.8" stroke="#2a2a2a" stroke-width="1.25" />
<line x1="297" y1="154.2" x2="300" y2="154.2" stroke="#2a2a2a" stroke-width="1" />
<text x="293.8" y="153.4" font-size="6.9" text-anchor="end" fill="#333333" dominant-baseline="central" textLength="15.89" lengthAdjust="spacingAndGlyphs" >0.020</text>
<line x1="297" y1="169.95" x2="300" y2="169.95" stroke="#2a2a2a" stroke-width="1" />
<text x="293.8" y="169.15" font-size="6.9" text-anchor="end" fill="#333333" dominant-baseline="central" textLength="15.89" lengthAdjust="spacingAndGlyphs" >0.015</text>
<line x1="297" y1="185.7" x2="300" y2="185.7" stroke="#2a2a2a" stroke-width="1" />
<text x="293.8" y="184.9" font-size="6.9" text-anchor="end" fill="#333333" dominant-baseline="central" textLength="15.89" lengthAdjust="spacingAndGlyphs" >0.010</text>
<line x1="297" y1="201.45" x2="300" y2="201.45" stroke="#2a2a2a" stroke-width="1" />
<text x="293.8" y="200.65" font-size="6.9" text-anchor="end" fill="#333333" dominant-baseline="central" textLength="15.89" lengthAdjust="spacingAndGlyphs" >0.005</text>
<line x1="297" y1="217.2" x2="300" y2="217.2" stroke="#2a2a2a" stroke-width="1" />
<text x="293.8" y="216.4" font-size="6.9" text-anchor="end" fill="#333333" dominant-baseline="central" textLength="3.53" lengthAdjust="spacingAndGlyphs" >0</text>
<line x1="299.4" y1="217.2" x2="345.2" y2="217.2" stroke="#2a2a2a" stroke-width="1.3" />
<text x="270.9" y="184.6" font-size="8.2" text-anchor="middle" fill="#1f1f1f" dominant-baseline="central" textLength="39.3" lengthAdjust="spacingAndGlyphs" transform="rotate(-90 270.9 184.6)" >% of BM cells</text>
<line x1="311.2" y1="157.3" x2="334" y2="157.3" stroke="#3a3a3a" stroke-width="1.1" />
<path d="M321.15 152.95L321.15 155.05M322.06 153.47L320.24 154.53M322.06 154.53L320.24 153.47" stroke="#3a3a3a" stroke-width="0.75" fill="none"/>
<path d="M324.05 152.95L324.05 155.05M324.96 153.47L323.14 154.53M324.96 154.53L323.14 153.47" stroke="#3a3a3a" stroke-width="0.75" fill="none"/>
<line x1="311.2" y1="157.3" x2="311.2" y2="159.4" stroke="#3a3a3a" stroke-width="1" />
<text x="356.3" y="145.7" font-size="11" font-weight="bold" fill="#111">I</text>
<text x="406.4" y="143.3" font-size="8.5" text-anchor="middle" fill="#262626" dominant-baseline="central" textLength="34.6" lengthAdjust="spacingAndGlyphs" stroke="#262626" stroke-width="0.08">PreMegE</text>
<rect x="386.9" y="184.8" width="16.5" height="32.4" fill="#8995BD"/>
<rect x="410.1" y="203" width="16.1" height="14.2" fill="#E68A7A"/>
<line x1="395.2" y1="175.8" x2="395.2" y2="193.3" stroke="#1B2B4D" stroke-width="1.2" />
<line x1="391.1" y1="175.8" x2="399.3" y2="175.8" stroke="#1B2B4D" stroke-width="1.2" />
<line x1="391.1" y1="193.3" x2="399.3" y2="193.3" stroke="#1B2B4D" stroke-width="1.2" />
<line x1="418" y1="194.3" x2="418" y2="211.8" stroke="#3A2226" stroke-width="1.2" />
<line x1="413.9" y1="194.3" x2="422.1" y2="194.3" stroke="#3A2226" stroke-width="1.2" />
<line x1="413.9" y1="211.8" x2="422.1" y2="211.8" stroke="#3A2226" stroke-width="1.2" />
<circle cx="395.2" cy="168.7" r="1.12" fill="#1E3D72"/>
<circle cx="395.2" cy="172.5" r="1.12" fill="#1E3D72"/>
<circle cx="395.2" cy="182" r="1.12" fill="#1E3D72"/>
<circle cx="393.2" cy="186.8" r="1.12" fill="#1E3D72"/>
<circle cx="397.2" cy="188.5" r="1.12" fill="#1E3D72"/>
<circle cx="395.2" cy="190" r="1.12" fill="#1E3D72"/>
<circle cx="393.2" cy="192" r="1.12" fill="#1E3D72"/>
<circle cx="418" cy="183" r="1.12" fill="#C41432"/>
<circle cx="418" cy="198" r="1.12" fill="#C41432"/>
<circle cx="416" cy="203.5" r="1.12" fill="#C41432"/>
<circle cx="420" cy="203.5" r="1.12" fill="#C41432"/>
<circle cx="418" cy="206" r="1.12" fill="#C41432"/>
<circle cx="416" cy="208" r="1.12" fill="#C41432"/>
<circle cx="420" cy="208.5" r="1.12" fill="#C41432"/>
<circle cx="418" cy="211" r="1.12" fill="#C41432"/>
<circle cx="418" cy="214" r="1.12" fill="#C41432"/>
<line x1="384" y1="151.2" x2="384" y2="217.8" stroke="#2a2a2a" stroke-width="1.25" />
<line x1="381" y1="154.2" x2="384" y2="154.2" stroke="#2a2a2a" stroke-width="1" />
<text x="377.8" y="153.4" font-size="6.9" text-anchor="end" fill="#333333" dominant-baseline="central" textLength="12.36" lengthAdjust="spacingAndGlyphs" >0.15</text>
<line x1="381" y1="175.2" x2="384" y2="175.2" stroke="#2a2a2a" stroke-width="1" />
<text x="377.8" y="174.4" font-size="6.9" text-anchor="end" fill="#333333" dominant-baseline="central" textLength="12.36" lengthAdjust="spacingAndGlyphs" >0.10</text>
<line x1="381" y1="196.2" x2="384" y2="196.2" stroke="#2a2a2a" stroke-width="1" />
<text x="377.8" y="195.4" font-size="6.9" text-anchor="end" fill="#333333" dominant-baseline="central" textLength="12.36" lengthAdjust="spacingAndGlyphs" >0.05</text>
<line x1="381" y1="217.2" x2="384" y2="217.2" stroke="#2a2a2a" stroke-width="1" />
<text x="377.8" y="216.4" font-size="6.9" text-anchor="end" fill="#333333" dominant-baseline="central" textLength="3.53" lengthAdjust="spacingAndGlyphs" >0</text>
<line x1="383.4" y1="217.2" x2="429.2" y2="217.2" stroke="#2a2a2a" stroke-width="1.3" />
<text x="358.9" y="184.6" font-size="8.2" text-anchor="middle" fill="#1f1f1f" dominant-baseline="central" textLength="39.3" lengthAdjust="spacingAndGlyphs" transform="rotate(-90 358.9 184.6)" >% of BM cells</text>
<line x1="395.5" y1="165.8" x2="418" y2="165.8" stroke="#3a3a3a" stroke-width="1.1" />
<path d="M405.3 161.45L405.3 163.55M406.21 161.97L404.39 163.03M406.21 163.03L404.39 161.97" stroke="#3a3a3a" stroke-width="0.75" fill="none"/>
<path d="M408.2 161.45L408.2 163.55M409.11 161.97L407.29 163.03M409.11 163.03L407.29 161.97" stroke="#3a3a3a" stroke-width="0.75" fill="none"/>
<text x="438.5" y="145.7" font-size="11" font-weight="bold" fill="#111">J</text>
<text x="490.55" y="143.3" font-size="8.5" text-anchor="middle" fill="#262626" dominant-baseline="central" textLength="36.3" lengthAdjust="spacingAndGlyphs" stroke="#262626" stroke-width="0.08">PreCFU-E</text>
<rect x="470.9" y="203" width="16.5" height="14.2" fill="#8995BD"/>
<rect x="494.1" y="198.6" width="16.1" height="18.6" fill="#E68A7A"/>
<line x1="479.2" y1="195.2" x2="479.2" y2="208.9" stroke="#1B2B4D" stroke-width="1.2" />
<line x1="475.1" y1="195.2" x2="483.3" y2="195.2" stroke="#1B2B4D" stroke-width="1.2" />
<line x1="475.1" y1="208.9" x2="483.3" y2="208.9" stroke="#1B2B4D" stroke-width="1.2" />
<line x1="502" y1="183.9" x2="502" y2="212.1" stroke="#3A2226" stroke-width="1.2" />
<line x1="497.9" y1="183.9" x2="506.1" y2="183.9" stroke="#3A2226" stroke-width="1.2" />
<line x1="497.9" y1="212.1" x2="506.1" y2="212.1" stroke="#3A2226" stroke-width="1.2" />
<circle cx="479.2" cy="187.6" r="1.12" fill="#1E3D72"/>
<circle cx="474.7" cy="202.7" r="1.12" fill="#1E3D72"/>
<circle cx="483.2" cy="202.7" r="1.12" fill="#1E3D72"/>
<circle cx="477.2" cy="206" r="1.12" fill="#1E3D72"/>
<circle cx="481.2" cy="206" r="1.12" fill="#1E3D72"/>
<circle cx="479.2" cy="204" r="1.12" fill="#1E3D72"/>
<circle cx="477.2" cy="208.5" r="1.12" fill="#1E3D72"/>
<circle cx="500" cy="173.5" r="1.12" fill="#C41432"/>
<circle cx="504" cy="172.7" r="1.12" fill="#C41432"/>
<circle cx="502" cy="192.5" r="1.12" fill="#C41432"/>
<circle cx="496" cy="206" r="1.12" fill="#C41432"/>
<circle cx="500" cy="207" r="1.12" fill="#C41432"/>
<circle cx="504" cy="207" r="1.12" fill="#C41432"/>
<circle cx="508" cy="206" r="1.12" fill="#C41432"/>
<circle cx="508" cy="208" r="1.12" fill="#C41432"/>
<circle cx="502" cy="203.5" r="1.12" fill="#C41432"/>
<line x1="468" y1="151.2" x2="468" y2="217.8" stroke="#2a2a2a" stroke-width="1.25" />
<line x1="465" y1="154.2" x2="468" y2="154.2" stroke="#2a2a2a" stroke-width="1" />
<text x="461.8" y="153.4" font-size="6.9" text-anchor="end" fill="#333333" dominant-baseline="central" textLength="12.36" lengthAdjust="spacingAndGlyphs" >0.20</text>
<line x1="465" y1="169.95" x2="468" y2="169.95" stroke="#2a2a2a" stroke-width="1" />
<text x="461.8" y="169.15" font-size="6.9" text-anchor="end" fill="#333333" dominant-baseline="central" textLength="12.36" lengthAdjust="spacingAndGlyphs" >0.15</text>
<line x1="465" y1="185.7" x2="468" y2="185.7" stroke="#2a2a2a" stroke-width="1" />
<text x="461.8" y="184.9" font-size="6.9" text-anchor="end" fill="#333333" dominant-baseline="central" textLength="12.36" lengthAdjust="spacingAndGlyphs" >0.10</text>
<line x1="465" y1="201.45" x2="468" y2="201.45" stroke="#2a2a2a" stroke-width="1" />
<text x="461.8" y="200.65" font-size="6.9" text-anchor="end" fill="#333333" dominant-baseline="central" textLength="12.36" lengthAdjust="spacingAndGlyphs" >0.05</text>
<line x1="465" y1="217.2" x2="468" y2="217.2" stroke="#2a2a2a" stroke-width="1" />
<text x="461.8" y="216.4" font-size="6.9" text-anchor="end" fill="#333333" dominant-baseline="central" textLength="3.53" lengthAdjust="spacingAndGlyphs" >0</text>
<line x1="467.4" y1="217.2" x2="513.2" y2="217.2" stroke="#2a2a2a" stroke-width="1.3" />
<text x="443" y="184.6" font-size="8.2" text-anchor="middle" fill="#1f1f1f" dominant-baseline="central" textLength="39.3" lengthAdjust="spacingAndGlyphs" transform="rotate(-90 443 184.6)" >% of BM cells</text>
<text x="7.6" y="245.3" font-size="11" font-weight="bold" fill="#111">K</text>
<text x="63.7" y="242.6" font-size="8.5" text-anchor="middle" fill="#262626" dominant-baseline="central" textLength="24.2" lengthAdjust="spacingAndGlyphs" stroke="#262626" stroke-width="0.08">CFU-E</text>
<rect x="43.9" y="289.9" width="16.5" height="26.5" fill="#8995BD"/>
<rect x="67.1" y="297.2" width="16.1" height="19.2" fill="#E68A7A"/>
<line x1="52.2" y1="280.4" x2="52.2" y2="298.3" stroke="#1B2B4D" stroke-width="1.2" />
<line x1="48.1" y1="280.4" x2="56.3" y2="280.4" stroke="#1B2B4D" stroke-width="1.2" />
<line x1="48.1" y1="298.3" x2="56.3" y2="298.3" stroke="#1B2B4D" stroke-width="1.2" />
<line x1="75" y1="288.4" x2="75" y2="305.3" stroke="#3A2226" stroke-width="1.2" />
<line x1="70.9" y1="288.4" x2="79.1" y2="288.4" stroke="#3A2226" stroke-width="1.2" />
<line x1="70.9" y1="305.3" x2="79.1" y2="305.3" stroke="#3A2226" stroke-width="1.2" />
<circle cx="52.2" cy="270.6" r="1.12" fill="#1E3D72"/>
<circle cx="46.2" cy="290.3" r="1.12" fill="#1E3D72"/>
<circle cx="58.2" cy="290.3" r="1.12" fill="#1E3D72"/>
<circle cx="50.2" cy="290.5" r="1.12" fill="#1E3D72"/>
<circle cx="54.2" cy="291.5" r="1.12" fill="#1E3D72"/>
<circle cx="50.2" cy="293" r="1.12" fill="#1E3D72"/>
<circle cx="52.2" cy="300.5" r="1.12" fill="#1E3D72"/>
<circle cx="52.2" cy="296" r="1.12" fill="#1E3D72"/>
<circle cx="75" cy="284.2" r="1.12" fill="#C41432"/>
<circle cx="75" cy="287.4" r="1.12" fill="#C41432"/>
<circle cx="73" cy="291.5" r="1.12" fill="#C41432"/>
<circle cx="77" cy="291" r="1.12" fill="#C41432"/>
<circle cx="75" cy="297" r="1.12" fill="#C41432"/>
<circle cx="75" cy="299" r="1.12" fill="#C41432"/>
<circle cx="73" cy="302.5" r="1.12" fill="#C41432"/>
<circle cx="77" cy="301.5" r="1.12" fill="#C41432"/>
<circle cx="73" cy="307.5" r="1.12" fill="#C41432"/>
<circle cx="77" cy="307.5" r="1.12" fill="#C41432"/>
<line x1="41" y1="250.4" x2="41" y2="317" stroke="#2a2a2a" stroke-width="1.25" />
<line x1="38" y1="253.4" x2="41" y2="253.4" stroke="#2a2a2a" stroke-width="1" />
<text x="34.8" y="253.4" font-size="6.9" text-anchor="end" fill="#333333" dominant-baseline="central" textLength="12.36" lengthAdjust="spacingAndGlyphs" >0.40</text>
<line x1="38" y1="269.15" x2="41" y2="269.15" stroke="#2a2a2a" stroke-width="1" />
<text x="34.8" y="269.15" font-size="6.9" text-anchor="end" fill="#333333" dominant-baseline="central" textLength="12.36" lengthAdjust="spacingAndGlyphs" >0.30</text>
<line x1="38" y1="284.9" x2="41" y2="284.9" stroke="#2a2a2a" stroke-width="1" />
<text x="34.8" y="284.9" font-size="6.9" text-anchor="end" fill="#333333" dominant-baseline="central" textLength="12.36" lengthAdjust="spacingAndGlyphs" >0.20</text>
<line x1="38" y1="300.65" x2="41" y2="300.65" stroke="#2a2a2a" stroke-width="1" />
<text x="34.8" y="300.65" font-size="6.9" text-anchor="end" fill="#333333" dominant-baseline="central" textLength="12.36" lengthAdjust="spacingAndGlyphs" >0.10</text>
<line x1="38" y1="316.4" x2="41" y2="316.4" stroke="#2a2a2a" stroke-width="1" />
<text x="34.8" y="316.4" font-size="6.9" text-anchor="end" fill="#333333" dominant-baseline="central" textLength="3.53" lengthAdjust="spacingAndGlyphs" >0</text>
<line x1="40.4" y1="316.4" x2="86.2" y2="316.4" stroke="#2a2a2a" stroke-width="1.3" />
<text x="16.1" y="283.8" font-size="8.2" text-anchor="middle" fill="#1f1f1f" dominant-baseline="central" textLength="39.3" lengthAdjust="spacingAndGlyphs" transform="rotate(-90 16.1 283.8)" >% of BM cells</text>
<text x="95.5" y="245.3" font-size="11" font-weight="bold" fill="#111">L</text>
<text x="151.2" y="242.6" font-size="8.5" text-anchor="middle" fill="#262626" dominant-baseline="central" textLength="18.2" lengthAdjust="spacingAndGlyphs" stroke="#262626" stroke-width="0.08">CMP</text>
<rect x="131.4" y="305.3" width="16.5" height="11.1" fill="#8995BD"/>
<rect x="154.6" y="288.9" width="16.1" height="27.5" fill="#E68A7A"/>
<line x1="139.7" y1="300.3" x2="139.7" y2="311.1" stroke="#1B2B4D" stroke-width="1.2" />
<line x1="135.6" y1="300.3" x2="143.8" y2="300.3" stroke="#1B2B4D" stroke-width="1.2" />
<line x1="135.6" y1="311.1" x2="143.8" y2="311.1" stroke="#1B2B4D" stroke-width="1.2" />
<line x1="162.5" y1="275.5" x2="162.5" y2="302.5" stroke="#3A2226" stroke-width="1.2" />
<line x1="158.4" y1="275.5" x2="166.6" y2="275.5" stroke="#3A2226" stroke-width="1.2" />
<line x1="158.4" y1="302.5" x2="166.6" y2="302.5" stroke="#3A2226" stroke-width="1.2" />
<circle cx="139.7" cy="295.1" r="1.12" fill="#1E3D72"/>
<circle cx="136.2" cy="306" r="1.12" fill="#1E3D72"/>
<circle cx="143.2" cy="306" r="1.12" fill="#1E3D72"/>
<circle cx="136.2" cy="310.5" r="1.12" fill="#1E3D72"/>
<circle cx="143.2" cy="309" r="1.12" fill="#1E3D72"/>
<circle cx="139.7" cy="304" r="1.12" fill="#1E3D72"/>
<circle cx="162.5" cy="258.2" r="1.12" fill="#C41432"/>
<circle cx="162.5" cy="278.5" r="1.12" fill="#C41432"/>
<circle cx="162.5" cy="283.8" r="1.12" fill="#C41432"/>
<circle cx="160.5" cy="289.5" r="1.12" fill="#C41432"/>
<circle cx="164.5" cy="289.5" r="1.12" fill="#C41432"/>
<circle cx="162.5" cy="294" r="1.12" fill="#C41432"/>
<circle cx="162.5" cy="298" r="1.12" fill="#C41432"/>
<circle cx="160.5" cy="300.5" r="1.12" fill="#C41432"/>
<circle cx="164.5" cy="300.5" r="1.12" fill="#C41432"/>
<line x1="128.5" y1="250.4" x2="128.5" y2="317" stroke="#2a2a2a" stroke-width="1.25" />
<line x1="125.5" y1="253.4" x2="128.5" y2="253.4" stroke="#2a2a2a" stroke-width="1" />
<text x="122.3" y="253.4" font-size="6.9" text-anchor="end" fill="#333333" dominant-baseline="central" textLength="8.82" lengthAdjust="spacingAndGlyphs" >1.2</text>
<line x1="125.5" y1="274.4" x2="128.5" y2="274.4" stroke="#2a2a2a" stroke-width="1" />
<text x="122.3" y="274.4" font-size="6.9" text-anchor="end" fill="#333333" dominant-baseline="central" textLength="8.82" lengthAdjust="spacingAndGlyphs" >0.8</text>
<line x1="125.5" y1="295.4" x2="128.5" y2="295.4" stroke="#2a2a2a" stroke-width="1" />
<text x="122.3" y="295.4" font-size="6.9" text-anchor="end" fill="#333333" dominant-baseline="central" textLength="8.82" lengthAdjust="spacingAndGlyphs" >0.4</text>
<line x1="125.5" y1="316.4" x2="128.5" y2="316.4" stroke="#2a2a2a" stroke-width="1" />
<text x="122.3" y="316.4" font-size="6.9" text-anchor="end" fill="#333333" dominant-baseline="central" textLength="3.53" lengthAdjust="spacingAndGlyphs" >0</text>
<line x1="127.9" y1="316.4" x2="173.7" y2="316.4" stroke="#2a2a2a" stroke-width="1.3" />
<text x="106.7" y="283.8" font-size="8.2" text-anchor="middle" fill="#1f1f1f" dominant-baseline="central" textLength="39.3" lengthAdjust="spacingAndGlyphs" transform="rotate(-90 106.7 283.8)" >% of BM cells</text>
<line x1="140.2" y1="256.6" x2="162.4" y2="256.6" stroke="#3a3a3a" stroke-width="1.1" />
<path d="M149.85 252.25L149.85 254.35M150.76 252.78L148.94 253.83M150.76 253.83L148.94 252.78" stroke="#3a3a3a" stroke-width="0.75" fill="none"/>
<path d="M152.75 252.25L152.75 254.35M153.66 252.78L151.84 253.83M153.66 253.83L151.84 252.78" stroke="#3a3a3a" stroke-width="0.75" fill="none"/>
<line x1="162.4" y1="256.6" x2="162.4" y2="258.3" stroke="#3a3a3a" stroke-width="1" />
<text x="181.8" y="245.3" font-size="11" font-weight="bold" fill="#111">M</text>
<text x="234.7" y="242.6" font-size="8.5" text-anchor="middle" fill="#262626" dominant-baseline="central" textLength="18.2" lengthAdjust="spacingAndGlyphs" stroke="#262626" stroke-width="0.08">GMP</text>
<rect x="215.4" y="298.2" width="16.5" height="18.2" fill="#8995BD"/>
<rect x="238.6" y="290.1" width="16.1" height="26.3" fill="#E68A7A"/>
<line x1="223.7" y1="290.2" x2="223.7" y2="305.4" stroke="#1B2B4D" stroke-width="1.2" />
<line x1="219.6" y1="290.2" x2="227.8" y2="290.2" stroke="#1B2B4D" stroke-width="1.2" />
<line x1="219.6" y1="305.4" x2="227.8" y2="305.4" stroke="#1B2B4D" stroke-width="1.2" />
<line x1="246.5" y1="279.2" x2="246.5" y2="300.3" stroke="#3A2226" stroke-width="1.2" />
<line x1="242.4" y1="279.2" x2="250.6" y2="279.2" stroke="#3A2226" stroke-width="1.2" />
<line x1="242.4" y1="300.3" x2="250.6" y2="300.3" stroke="#3A2226" stroke-width="1.2" />
<circle cx="221.7" cy="288.5" r="1.12" fill="#1E3D72"/>
<circle cx="225.7" cy="289" r="1.12" fill="#1E3D72"/>
<circle cx="223.7" cy="294.5" r="1.12" fill="#1E3D72"/>
<circle cx="223.7" cy="308.4" r="1.12" fill="#1E3D72"/>
<circle cx="223.7" cy="300" r="1.12" fill="#1E3D72"/>
<circle cx="246.5" cy="269" r="1.12" fill="#C41432"/>
<circle cx="246.5" cy="273.8" r="1.12" fill="#C41432"/>
<circle cx="246.5" cy="286" r="1.12" fill="#C41432"/>
<circle cx="240.5" cy="297.5" r="1.12" fill="#C41432"/>
<circle cx="244.5" cy="296.8" r="1.12" fill="#C41432"/>
<circle cx="248.5" cy="297.5" r="1.12" fill="#C41432"/>
<circle cx="252.5" cy="297.5" r="1.12" fill="#C41432"/>
<circle cx="240.5" cy="299.5" r="1.12" fill="#C41432"/>
<circle cx="246.5" cy="292" r="1.12" fill="#C41432"/>
<line x1="212.5" y1="250.4" x2="212.5" y2="317" stroke="#2a2a2a" stroke-width="1.25" />
<line x1="209.5" y1="253.4" x2="212.5" y2="253.4" stroke="#2a2a2a" stroke-width="1" />
<text x="206.3" y="253.4" font-size="6.9" text-anchor="end" fill="#333333" dominant-baseline="central" textLength="8.82" lengthAdjust="spacingAndGlyphs" >1.5</text>
<line x1="209.5" y1="274.4" x2="212.5" y2="274.4" stroke="#2a2a2a" stroke-width="1" />
<text x="206.3" y="274.4" font-size="6.9" text-anchor="end" fill="#333333" dominant-baseline="central" textLength="8.82" lengthAdjust="spacingAndGlyphs" >1.0</text>
<line x1="209.5" y1="295.4" x2="212.5" y2="295.4" stroke="#2a2a2a" stroke-width="1" />
<text x="206.3" y="295.4" font-size="6.9" text-anchor="end" fill="#333333" dominant-baseline="central" textLength="8.82" lengthAdjust="spacingAndGlyphs" >0.5</text>
<line x1="209.5" y1="316.4" x2="212.5" y2="316.4" stroke="#2a2a2a" stroke-width="1" />
<text x="206.3" y="316.4" font-size="6.9" text-anchor="end" fill="#333333" dominant-baseline="central" textLength="3.53" lengthAdjust="spacingAndGlyphs" >0</text>
<line x1="211.9" y1="316.4" x2="257.7" y2="316.4" stroke="#2a2a2a" stroke-width="1.3" />
<text x="191.1" y="283.8" font-size="8.2" text-anchor="middle" fill="#1f1f1f" dominant-baseline="central" textLength="39.3" lengthAdjust="spacingAndGlyphs" transform="rotate(-90 191.1 283.8)" >% of BM cells</text>
<text x="266.4" y="245.3" font-size="11" font-weight="bold" fill="#111">N</text>
<text x="322.5" y="242.6" font-size="8.5" text-anchor="middle" fill="#262626" dominant-baseline="central" textLength="15" lengthAdjust="spacingAndGlyphs" stroke="#262626" stroke-width="0.08">CLP</text>
<rect x="302.9" y="287.9" width="16.5" height="28.5" fill="#8995BD"/>
<rect x="326.1" y="293.3" width="16.1" height="23.1" fill="#E68A7A"/>
<line x1="311.2" y1="269.3" x2="311.2" y2="305.3" stroke="#1B2B4D" stroke-width="1.2" />
<line x1="307.1" y1="269.3" x2="315.3" y2="269.3" stroke="#1B2B4D" stroke-width="1.2" />
<line x1="307.1" y1="305.3" x2="315.3" y2="305.3" stroke="#1B2B4D" stroke-width="1.2" />
<line x1="334" y1="273.8" x2="334" y2="310.8" stroke="#3A2226" stroke-width="1.2" />
<line x1="329.9" y1="273.8" x2="338.1" y2="273.8" stroke="#3A2226" stroke-width="1.2" />
<line x1="329.9" y1="310.8" x2="338.1" y2="310.8" stroke="#3A2226" stroke-width="1.2" />
<circle cx="311.2" cy="260.5" r="1.12" fill="#1E3D72"/>
<circle cx="311.2" cy="271.8" r="1.12" fill="#1E3D72"/>
<circle cx="311.2" cy="286" r="1.12" fill="#1E3D72"/>
<circle cx="311.2" cy="296.7" r="1.12" fill="#1E3D72"/>
<circle cx="309.2" cy="304.5" r="1.12" fill="#1E3D72"/>
<circle cx="313.2" cy="304.5" r="1.12" fill="#1E3D72"/>
<circle cx="334" cy="265.6" r="1.12" fill="#C41432"/>
<circle cx="334" cy="278" r="1.12" fill="#C41432"/>
<circle cx="334" cy="287.5" r="1.12" fill="#C41432"/>
<circle cx="334" cy="298" r="1.12" fill="#C41432"/>
<circle cx="334" cy="308.5" r="1.12" fill="#C41432"/>
<circle cx="332" cy="309.5" r="1.12" fill="#C41432"/>
<circle cx="336" cy="309.5" r="1.12" fill="#C41432"/>
<line x1="300" y1="250.4" x2="300" y2="317" stroke="#2a2a2a" stroke-width="1.25" />
<line x1="297" y1="253.4" x2="300" y2="253.4" stroke="#2a2a2a" stroke-width="1" />
<text x="293.8" y="253.4" font-size="6.9" text-anchor="end" fill="#333333" dominant-baseline="central" textLength="12.36" lengthAdjust="spacingAndGlyphs" >0.03</text>
<line x1="297" y1="274.4" x2="300" y2="274.4" stroke="#2a2a2a" stroke-width="1" />
<text x="293.8" y="274.4" font-size="6.9" text-anchor="end" fill="#333333" dominant-baseline="central" textLength="12.36" lengthAdjust="spacingAndGlyphs" >0.02</text>
<line x1="297" y1="295.4" x2="300" y2="295.4" stroke="#2a2a2a" stroke-width="1" />
<text x="293.8" y="295.4" font-size="6.9" text-anchor="end" fill="#333333" dominant-baseline="central" textLength="12.36" lengthAdjust="spacingAndGlyphs" >0.01</text>
<line x1="297" y1="316.4" x2="300" y2="316.4" stroke="#2a2a2a" stroke-width="1" />
<text x="293.8" y="316.4" font-size="6.9" text-anchor="end" fill="#333333" dominant-baseline="central" textLength="3.53" lengthAdjust="spacingAndGlyphs" >0</text>
<line x1="299.4" y1="316.4" x2="345.2" y2="316.4" stroke="#2a2a2a" stroke-width="1.3" />
<text x="274.7" y="283.8" font-size="8.2" text-anchor="middle" fill="#1f1f1f" dominant-baseline="central" textLength="39.3" lengthAdjust="spacingAndGlyphs" transform="rotate(-90 274.7 283.8)" >% of BM cells</text>
<text x="353.5" y="245.3" font-size="11" font-weight="bold" fill="#111">O</text>
<text x="406.9" y="242.6" font-size="8.5" text-anchor="middle" fill="#262626" dominant-baseline="central" textLength="24.2" lengthAdjust="spacingAndGlyphs" stroke="#262626" stroke-width="0.08">B cells</text>
<rect x="386.9" y="278" width="16.5" height="38.4" fill="#8995BD"/>
<rect x="410.1" y="291" width="16.1" height="25.4" fill="#E68A7A"/>
<line x1="395.2" y1="268.2" x2="395.2" y2="286.3" stroke="#1B2B4D" stroke-width="1.2" />
<line x1="391.1" y1="268.2" x2="399.3" y2="268.2" stroke="#1B2B4D" stroke-width="1.2" />
<line x1="391.1" y1="286.3" x2="399.3" y2="286.3" stroke="#1B2B4D" stroke-width="1.2" />
<line x1="418" y1="281.1" x2="418" y2="300.1" stroke="#3A2226" stroke-width="1.2" />
<line x1="413.9" y1="281.1" x2="422.1" y2="281.1" stroke="#3A2226" stroke-width="1.2" />
<line x1="413.9" y1="300.1" x2="422.1" y2="300.1" stroke="#3A2226" stroke-width="1.2" />
<circle cx="395.2" cy="264.6" r="1.12" fill="#1E3D72"/>
<circle cx="395.2" cy="273.7" r="1.12" fill="#1E3D72"/>
<circle cx="391.2" cy="276.2" r="1.12" fill="#1E3D72"/>
<circle cx="399.2" cy="276.2" r="1.12" fill="#1E3D72"/>
<circle cx="395.2" cy="281" r="1.12" fill="#1E3D72"/>
<circle cx="395.2" cy="287.5" r="1.12" fill="#1E3D72"/>
<circle cx="395.2" cy="293" r="1.12" fill="#1E3D72"/>
<circle cx="418" cy="270.6" r="1.12" fill="#C41432"/>
<circle cx="418" cy="286.8" r="1.12" fill="#C41432"/>
<circle cx="422" cy="290.2" r="1.12" fill="#C41432"/>
<circle cx="414" cy="293.3" r="1.12" fill="#C41432"/>
<circle cx="418" cy="294.8" r="1.12" fill="#C41432"/>
<circle cx="422" cy="293.3" r="1.12" fill="#C41432"/>
<circle cx="418" cy="297.8" r="1.12" fill="#C41432"/>
<circle cx="416" cy="302.5" r="1.12" fill="#C41432"/>
<circle cx="420" cy="301.5" r="1.12" fill="#C41432"/>
<line x1="384" y1="250.4" x2="384" y2="317" stroke="#2a2a2a" stroke-width="1.25" />
<line x1="381" y1="253.4" x2="384" y2="253.4" stroke="#2a2a2a" stroke-width="1" />
<text x="377.8" y="253.4" font-size="6.9" text-anchor="end" fill="#333333" dominant-baseline="central" textLength="7.06" lengthAdjust="spacingAndGlyphs" >25</text>
<line x1="381" y1="266" x2="384" y2="266" stroke="#2a2a2a" stroke-width="1" />
<text x="377.8" y="266" font-size="6.9" text-anchor="end" fill="#333333" dominant-baseline="central" textLength="7.06" lengthAdjust="spacingAndGlyphs" >20</text>
<line x1="381" y1="278.6" x2="384" y2="278.6" stroke="#2a2a2a" stroke-width="1" />
<text x="377.8" y="278.6" font-size="6.9" text-anchor="end" fill="#333333" dominant-baseline="central" textLength="7.06" lengthAdjust="spacingAndGlyphs" >15</text>
<line x1="381" y1="291.2" x2="384" y2="291.2" stroke="#2a2a2a" stroke-width="1" />
<text x="377.8" y="291.2" font-size="6.9" text-anchor="end" fill="#333333" dominant-baseline="central" textLength="7.06" lengthAdjust="spacingAndGlyphs" >10</text>
<line x1="381" y1="303.8" x2="384" y2="303.8" stroke="#2a2a2a" stroke-width="1" />
<text x="377.8" y="303.8" font-size="6.9" text-anchor="end" fill="#333333" dominant-baseline="central" textLength="3.53" lengthAdjust="spacingAndGlyphs" >5</text>
<line x1="381" y1="316.4" x2="384" y2="316.4" stroke="#2a2a2a" stroke-width="1" />
<text x="377.8" y="316.4" font-size="6.9" text-anchor="end" fill="#333333" dominant-baseline="central" textLength="3.53" lengthAdjust="spacingAndGlyphs" >0</text>
<line x1="383.4" y1="316.4" x2="429.2" y2="316.4" stroke="#2a2a2a" stroke-width="1.3" />
<text x="364.1" y="283.8" font-size="8.2" text-anchor="middle" fill="#1f1f1f" dominant-baseline="central" textLength="39.3" lengthAdjust="spacingAndGlyphs" transform="rotate(-90 364.1 283.8)" >% of BM cells</text>
<text x="438.1" y="245.3" font-size="11" font-weight="bold" fill="#111">P</text>
<text x="490.8" y="242.6" font-size="8.5" text-anchor="middle" fill="#262626" dominant-baseline="central" textLength="23" lengthAdjust="spacingAndGlyphs" stroke="#262626" stroke-width="0.08">T cells</text>
<rect x="470.9" y="287.5" width="16.5" height="28.9" fill="#8995BD"/>
<rect x="494.1" y="289.9" width="16.1" height="26.5" fill="#E68A7A"/>
<line x1="479.2" y1="276.8" x2="479.2" y2="297.5" stroke="#1B2B4D" stroke-width="1.2" />
<line x1="475.1" y1="276.8" x2="483.3" y2="276.8" stroke="#1B2B4D" stroke-width="1.2" />
<line x1="475.1" y1="297.5" x2="483.3" y2="297.5" stroke="#1B2B4D" stroke-width="1.2" />
<line x1="502" y1="276.5" x2="502" y2="304" stroke="#3A2226" stroke-width="1.2" />
<line x1="497.9" y1="276.5" x2="506.1" y2="276.5" stroke="#3A2226" stroke-width="1.2" />
<line x1="497.9" y1="304" x2="506.1" y2="304" stroke="#3A2226" stroke-width="1.2" />
<circle cx="479.2" cy="266.9" r="1.12" fill="#1E3D72"/>
<circle cx="479.2" cy="282" r="1.12" fill="#1E3D72"/>
<circle cx="479.2" cy="286" r="1.12" fill="#1E3D72"/>
<circle cx="479.2" cy="290" r="1.12" fill="#1E3D72"/>
<circle cx="477.2" cy="294.5" r="1.12" fill="#1E3D72"/>
<circle cx="481.2" cy="295.5" r="1.12" fill="#1E3D72"/>
<circle cx="479.2" cy="299.4" r="1.12" fill="#1E3D72"/>
<circle cx="502" cy="265.2" r="1.12" fill="#C41432"/>
<circle cx="498" cy="280" r="1.12" fill="#C41432"/>
<circle cx="502" cy="283" r="1.12" fill="#C41432"/>
<circle cx="502" cy="290.5" r="1.12" fill="#C41432"/>
<circle cx="504" cy="289" r="1.12" fill="#C41432"/>
<circle cx="502" cy="296" r="1.12" fill="#C41432"/>
<circle cx="498" cy="304" r="1.12" fill="#C41432"/>
<circle cx="500" cy="305" r="1.12" fill="#C41432"/>
<circle cx="504" cy="305" r="1.12" fill="#C41432"/>
<circle cx="506" cy="304" r="1.12" fill="#C41432"/>
<line x1="468" y1="250.4" x2="468" y2="317" stroke="#2a2a2a" stroke-width="1.25" />
<line x1="465" y1="253.4" x2="468" y2="253.4" stroke="#2a2a2a" stroke-width="1" />
<text x="461.8" y="253.4" font-size="6.9" text-anchor="end" fill="#333333" dominant-baseline="central" textLength="8.82" lengthAdjust="spacingAndGlyphs" >2.5</text>
<line x1="465" y1="266" x2="468" y2="266" stroke="#2a2a2a" stroke-width="1" />
<text x="461.8" y="266" font-size="6.9" text-anchor="end" fill="#333333" dominant-baseline="central" textLength="8.82" lengthAdjust="spacingAndGlyphs" >2.0</text>
<line x1="465" y1="278.6" x2="468" y2="278.6" stroke="#2a2a2a" stroke-width="1" />
<text x="461.8" y="278.6" font-size="6.9" text-anchor="end" fill="#333333" dominant-baseline="central" textLength="8.82" lengthAdjust="spacingAndGlyphs" >1.5</text>
<line x1="465" y1="291.2" x2="468" y2="291.2" stroke="#2a2a2a" stroke-width="1" />
<text x="461.8" y="291.2" font-size="6.9" text-anchor="end" fill="#333333" dominant-baseline="central" textLength="8.82" lengthAdjust="spacingAndGlyphs" >1.0</text>
<line x1="465" y1="303.8" x2="468" y2="303.8" stroke="#2a2a2a" stroke-width="1" />
<text x="461.8" y="303.8" font-size="6.9" text-anchor="end" fill="#333333" dominant-baseline="central" textLength="8.82" lengthAdjust="spacingAndGlyphs" >0.5</text>
<line x1="465" y1="316.4" x2="468" y2="316.4" stroke="#2a2a2a" stroke-width="1" />
<text x="461.8" y="316.4" font-size="6.9" text-anchor="end" fill="#333333" dominant-baseline="central" textLength="3.53" lengthAdjust="spacingAndGlyphs" >0</text>
<line x1="467.4" y1="316.4" x2="513.2" y2="316.4" stroke="#2a2a2a" stroke-width="1.3" />
<text x="446.5" y="283.8" font-size="8.2" text-anchor="middle" fill="#1f1f1f" dominant-baseline="central" textLength="39.3" lengthAdjust="spacingAndGlyphs" transform="rotate(-90 446.5 283.8)" >% of BM cells</text>
<text x="7.1" y="344.6" font-size="11" font-weight="bold" fill="#111">Q</text>
<text x="63.55" y="341.8" font-size="8.5" text-anchor="middle" fill="#262626" dominant-baseline="central" textLength="44.1" lengthAdjust="spacingAndGlyphs" stroke="#262626" stroke-width="0.08">Neutrophils</text>
<rect x="43.9" y="389.1" width="16.5" height="26.45" fill="#8995BD"/>
<rect x="67.1" y="384" width="16.1" height="31.55" fill="#E68A7A"/>
<line x1="52.2" y1="383.1" x2="52.2" y2="394.3" stroke="#1B2B4D" stroke-width="1.2" />
<line x1="48.1" y1="383.1" x2="56.3" y2="383.1" stroke="#1B2B4D" stroke-width="1.2" />
<line x1="48.1" y1="394.3" x2="56.3" y2="394.3" stroke="#1B2B4D" stroke-width="1.2" />
<line x1="75" y1="375.8" x2="75" y2="391.3" stroke="#3A2226" stroke-width="1.2" />
<line x1="70.9" y1="375.8" x2="79.1" y2="375.8" stroke="#3A2226" stroke-width="1.2" />
<line x1="70.9" y1="391.3" x2="79.1" y2="391.3" stroke="#3A2226" stroke-width="1.2" />
<circle cx="52.2" cy="379.8" r="1.12" fill="#1E3D72"/>
<circle cx="50.2" cy="385.8" r="1.12" fill="#1E3D72"/>
<circle cx="54.2" cy="386.5" r="1.12" fill="#1E3D72"/>
<circle cx="50.2" cy="389" r="1.12" fill="#1E3D72"/>
<circle cx="54.2" cy="390.4" r="1.12" fill="#1E3D72"/>
<circle cx="50.2" cy="392" r="1.12" fill="#1E3D72"/>
<circle cx="50.2" cy="396.5" r="1.12" fill="#1E3D72"/>
<circle cx="54.2" cy="396.5" r="1.12" fill="#1E3D72"/>
<circle cx="75" cy="367.9" r="1.12" fill="#C41432"/>
<circle cx="71" cy="379.4" r="1.12" fill="#C41432"/>
<circle cx="79" cy="380" r="1.12" fill="#C41432"/>
<circle cx="75" cy="378.5" r="1.12" fill="#C41432"/>
<circle cx="75" cy="384" r="1.12" fill="#C41432"/>
<circle cx="73" cy="387.2" r="1.12" fill="#C41432"/>
<circle cx="77" cy="387" r="1.12" fill="#C41432"/>
<circle cx="75" cy="396.7" r="1.12" fill="#C41432"/>
<circle cx="75" cy="390" r="1.12" fill="#C41432"/>
<line x1="41" y1="349.6" x2="41" y2="416.15" stroke="#2a2a2a" stroke-width="1.25" />
<line x1="38" y1="352.6" x2="41" y2="352.6" stroke="#2a2a2a" stroke-width="1" />
<text x="34.8" y="352.6" font-size="6.9" text-anchor="end" fill="#333333" dominant-baseline="central" textLength="7.06" lengthAdjust="spacingAndGlyphs" >80</text>
<line x1="38" y1="368.34" x2="41" y2="368.34" stroke="#2a2a2a" stroke-width="1" />
<text x="34.8" y="368.34" font-size="6.9" text-anchor="end" fill="#333333" dominant-baseline="central" textLength="7.06" lengthAdjust="spacingAndGlyphs" >60</text>
<line x1="38" y1="384.08" x2="41" y2="384.08" stroke="#2a2a2a" stroke-width="1" />
<text x="34.8" y="384.08" font-size="6.9" text-anchor="end" fill="#333333" dominant-baseline="central" textLength="7.06" lengthAdjust="spacingAndGlyphs" >40</text>
<line x1="38" y1="399.81" x2="41" y2="399.81" stroke="#2a2a2a" stroke-width="1" />
<text x="34.8" y="399.81" font-size="6.9" text-anchor="end" fill="#333333" dominant-baseline="central" textLength="7.06" lengthAdjust="spacingAndGlyphs" >20</text>
<line x1="38" y1="415.55" x2="41" y2="415.55" stroke="#2a2a2a" stroke-width="1" />
<text x="34.8" y="415.55" font-size="6.9" text-anchor="end" fill="#333333" dominant-baseline="central" textLength="3.53" lengthAdjust="spacingAndGlyphs" >0</text>
<line x1="40.4" y1="415.55" x2="86.2" y2="415.55" stroke="#2a2a2a" stroke-width="1.3" />
<text x="20.8" y="382.98" font-size="8.2" text-anchor="middle" fill="#1f1f1f" dominant-baseline="central" textLength="39.3" lengthAdjust="spacingAndGlyphs" transform="rotate(-90 20.8 382.98)" >% of BM cells</text>
<text x="94.8" y="344.6" font-size="11" font-weight="bold" fill="#111">R</text>
<text x="150.9" y="341.8" font-size="8.5" text-anchor="middle" fill="#262626" dominant-baseline="central" textLength="41.2" lengthAdjust="spacingAndGlyphs" stroke="#262626" stroke-width="0.08">Monocytes</text>
<rect x="131.4" y="397" width="16.5" height="18.55" fill="#8995BD"/>
<rect x="154.6" y="383.6" width="16.1" height="31.95" fill="#E68A7A"/>
<line x1="139.7" y1="392.3" x2="139.7" y2="400.1" stroke="#1B2B4D" stroke-width="1.2" />
<line x1="135.6" y1="392.3" x2="143.8" y2="392.3" stroke="#1B2B4D" stroke-width="1.2" />
<line x1="135.6" y1="400.1" x2="143.8" y2="400.1" stroke="#1B2B4D" stroke-width="1.2" />
<line x1="162.5" y1="376.5" x2="162.5" y2="389.2" stroke="#3A2226" stroke-width="1.2" />
<line x1="158.4" y1="376.5" x2="166.6" y2="376.5" stroke="#3A2226" stroke-width="1.2" />
<line x1="158.4" y1="389.2" x2="166.6" y2="389.2" stroke="#3A2226" stroke-width="1.2" />
<circle cx="135.7" cy="390.6" r="1.12" fill="#1E3D72"/>
<circle cx="135.7" cy="395" r="1.12" fill="#1E3D72"/>
<circle cx="143.7" cy="394.9" r="1.12" fill="#1E3D72"/>
<circle cx="139.7" cy="396" r="1.12" fill="#1E3D72"/>
<circle cx="135.7" cy="397.6" r="1.12" fill="#1E3D72"/>
<circle cx="143.7" cy="398.6" r="1.12" fill="#1E3D72"/>
<circle cx="139.7" cy="402.6" r="1.12" fill="#1E3D72"/>
<circle cx="162.5" cy="370.4" r="1.12" fill="#C41432"/>
<circle cx="158.5" cy="379.8" r="1.12" fill="#C41432"/>
<circle cx="166.5" cy="378.8" r="1.12" fill="#C41432"/>
<circle cx="156.5" cy="384.2" r="1.12" fill="#C41432"/>
<circle cx="160.5" cy="385.8" r="1.12" fill="#C41432"/>
<circle cx="164.5" cy="385" r="1.12" fill="#C41432"/>
<circle cx="168.5" cy="386" r="1.12" fill="#C41432"/>
<circle cx="162.5" cy="388" r="1.12" fill="#C41432"/>
<circle cx="162.5" cy="392.2" r="1.12" fill="#C41432"/>
<line x1="128.5" y1="349.6" x2="128.5" y2="416.15" stroke="#2a2a2a" stroke-width="1.25" />
<line x1="125.5" y1="352.6" x2="128.5" y2="352.6" stroke="#2a2a2a" stroke-width="1" />
<text x="122.3" y="352.6" font-size="6.9" text-anchor="end" fill="#333333" dominant-baseline="central" textLength="7.06" lengthAdjust="spacingAndGlyphs" >20</text>
<line x1="125.5" y1="368.34" x2="128.5" y2="368.34" stroke="#2a2a2a" stroke-width="1" />
<text x="122.3" y="368.34" font-size="6.9" text-anchor="end" fill="#333333" dominant-baseline="central" textLength="7.06" lengthAdjust="spacingAndGlyphs" >15</text>
<line x1="125.5" y1="384.08" x2="128.5" y2="384.08" stroke="#2a2a2a" stroke-width="1" />
<text x="122.3" y="384.08" font-size="6.9" text-anchor="end" fill="#333333" dominant-baseline="central" textLength="7.06" lengthAdjust="spacingAndGlyphs" >10</text>
<line x1="125.5" y1="399.81" x2="128.5" y2="399.81" stroke="#2a2a2a" stroke-width="1" />
<text x="122.3" y="399.81" font-size="6.9" text-anchor="end" fill="#333333" dominant-baseline="central" textLength="3.53" lengthAdjust="spacingAndGlyphs" >5</text>
<line x1="125.5" y1="415.55" x2="128.5" y2="415.55" stroke="#2a2a2a" stroke-width="1" />
<text x="122.3" y="415.55" font-size="6.9" text-anchor="end" fill="#333333" dominant-baseline="central" textLength="3.53" lengthAdjust="spacingAndGlyphs" >0</text>
<line x1="127.9" y1="415.55" x2="173.7" y2="415.55" stroke="#2a2a2a" stroke-width="1.3" />
<text x="108.4" y="382.98" font-size="8.2" text-anchor="middle" fill="#1f1f1f" dominant-baseline="central" textLength="39.3" lengthAdjust="spacingAndGlyphs" transform="rotate(-90 108.4 382.98)" >% of BM cells</text>
<line x1="139.9" y1="364.4" x2="162.9" y2="364.4" stroke="#3a3a3a" stroke-width="1.1" />
<path d="M148.5 360.05L148.5 362.15M149.41 360.57L147.59 361.62M149.41 361.62L147.59 360.57" stroke="#3a3a3a" stroke-width="0.75" fill="none"/>
<path d="M151.4 360.05L151.4 362.15M152.31 360.57L150.49 361.62M152.31 361.62L150.49 360.57" stroke="#3a3a3a" stroke-width="0.75" fill="none"/>
<path d="M154.3 360.05L154.3 362.15M155.21 360.57L153.39 361.62M155.21 361.62L153.39 360.57" stroke="#3a3a3a" stroke-width="0.75" fill="none"/>
<text x="183.6" y="344.6" font-size="11" font-weight="bold" fill="#111">S</text>
<text x="234.85" y="341.8" font-size="8.5" text-anchor="middle" fill="#262626" dominant-baseline="central" textLength="23.7" lengthAdjust="spacingAndGlyphs" stroke="#262626" stroke-width="0.08">B cells</text>
<rect x="215.4" y="373.2" width="16.5" height="42.35" fill="#8995BD"/>
<rect x="238.6" y="383.9" width="16.1" height="31.65" fill="#E68A7A"/>
<line x1="223.7" y1="367.3" x2="223.7" y2="378.2" stroke="#1B2B4D" stroke-width="1.2" />
<line x1="219.6" y1="367.3" x2="227.8" y2="367.3" stroke="#1B2B4D" stroke-width="1.2" />
<line x1="219.6" y1="378.2" x2="227.8" y2="378.2" stroke="#1B2B4D" stroke-width="1.2" />
<line x1="246.5" y1="374.3" x2="246.5" y2="392.3" stroke="#3A2226" stroke-width="1.2" />
<line x1="242.4" y1="374.3" x2="250.6" y2="374.3" stroke="#3A2226" stroke-width="1.2" />
<line x1="242.4" y1="392.3" x2="250.6" y2="392.3" stroke="#3A2226" stroke-width="1.2" />
<circle cx="219.7" cy="365" r="1.12" fill="#1E3D72"/>
<circle cx="223.7" cy="366.5" r="1.12" fill="#1E3D72"/>
<circle cx="219.7" cy="371.5" r="1.12" fill="#1E3D72"/>
<circle cx="227.7" cy="371" r="1.12" fill="#1E3D72"/>
<circle cx="223.7" cy="370" r="1.12" fill="#1E3D72"/>
<circle cx="221.7" cy="377" r="1.12" fill="#1E3D72"/>
<circle cx="225.7" cy="377" r="1.12" fill="#1E3D72"/>
<circle cx="223.7" cy="382" r="1.12" fill="#1E3D72"/>
<circle cx="244.5" cy="370" r="1.12" fill="#C41432"/>
<circle cx="248.5" cy="371.5" r="1.12" fill="#C41432"/>
<circle cx="242.5" cy="383.8" r="1.12" fill="#C41432"/>
<circle cx="250.5" cy="383" r="1.12" fill="#C41432"/>
<circle cx="250.5" cy="384.5" r="1.12" fill="#C41432"/>
<circle cx="244.5" cy="388.2" r="1.12" fill="#C41432"/>
<circle cx="248.5" cy="389.5" r="1.12" fill="#C41432"/>
<circle cx="246.5" cy="385.5" r="1.12" fill="#C41432"/>
<circle cx="246.5" cy="400.2" r="1.12" fill="#C41432"/>
<line x1="212.5" y1="349.6" x2="212.5" y2="416.15" stroke="#2a2a2a" stroke-width="1.25" />
<line x1="209.5" y1="352.6" x2="212.5" y2="352.6" stroke="#2a2a2a" stroke-width="1" />
<text x="206.3" y="352.6" font-size="6.9" text-anchor="end" fill="#333333" dominant-baseline="central" textLength="7.06" lengthAdjust="spacingAndGlyphs" >60</text>
<line x1="209.5" y1="373.58" x2="212.5" y2="373.58" stroke="#2a2a2a" stroke-width="1" />
<text x="206.3" y="373.58" font-size="6.9" text-anchor="end" fill="#333333" dominant-baseline="central" textLength="7.06" lengthAdjust="spacingAndGlyphs" >40</text>
<line x1="209.5" y1="394.57" x2="212.5" y2="394.57" stroke="#2a2a2a" stroke-width="1" />
<text x="206.3" y="394.57" font-size="6.9" text-anchor="end" fill="#333333" dominant-baseline="central" textLength="7.06" lengthAdjust="spacingAndGlyphs" >20</text>
<line x1="209.5" y1="415.55" x2="212.5" y2="415.55" stroke="#2a2a2a" stroke-width="1" />
<text x="206.3" y="415.55" font-size="6.9" text-anchor="end" fill="#333333" dominant-baseline="central" textLength="3.53" lengthAdjust="spacingAndGlyphs" >0</text>
<line x1="211.9" y1="415.55" x2="257.7" y2="415.55" stroke="#2a2a2a" stroke-width="1.3" />
<text x="191.9" y="382.98" font-size="8.2" text-anchor="middle" fill="#1f1f1f" dominant-baseline="central" textLength="46.3" lengthAdjust="spacingAndGlyphs" transform="rotate(-90 191.9 382.98)" >% of blood cells</text>
<text x="267.6" y="344.6" font-size="11" font-weight="bold" fill="#111">T</text>
<text x="323" y="341.8" font-size="8.5" text-anchor="middle" fill="#262626" dominant-baseline="central" textLength="22.8" lengthAdjust="spacingAndGlyphs" stroke="#262626" stroke-width="0.08">T cells</text>
<rect x="302.9" y="370.9" width="16.5" height="44.65" fill="#8995BD"/>
<rect x="326.1" y="375.1" width="16.1" height="40.45" fill="#E68A7A"/>
<line x1="311.2" y1="362.9" x2="311.2" y2="378.4" stroke="#1B2B4D" stroke-width="1.2" />
<line x1="307.1" y1="362.9" x2="315.3" y2="362.9" stroke="#1B2B4D" stroke-width="1.2" />
<line x1="307.1" y1="378.4" x2="315.3" y2="378.4" stroke="#1B2B4D" stroke-width="1.2" />
<line x1="334" y1="366.7" x2="334" y2="382.4" stroke="#3A2226" stroke-width="1.2" />
<line x1="329.9" y1="366.7" x2="338.1" y2="366.7" stroke="#3A2226" stroke-width="1.2" />
<line x1="329.9" y1="382.4" x2="338.1" y2="382.4" stroke="#3A2226" stroke-width="1.2" />
<circle cx="311.2" cy="356.6" r="1.12" fill="#1E3D72"/>
<circle cx="305.2" cy="371.5" r="1.12" fill="#1E3D72"/>
<circle cx="309.2" cy="370.6" r="1.12" fill="#1E3D72"/>
<circle cx="313.2" cy="371" r="1.12" fill="#1E3D72"/>
<circle cx="317.2" cy="370.6" r="1.12" fill="#1E3D72"/>
<circle cx="311.2" cy="374" r="1.12" fill="#1E3D72"/>
<circle cx="311.2" cy="384.4" r="1.12" fill="#1E3D72"/>
<circle cx="334" cy="365" r="1.12" fill="#C41432"/>
<circle cx="332" cy="367" r="1.12" fill="#C41432"/>
<circle cx="336" cy="367.5" r="1.12" fill="#C41432"/>
<circle cx="334" cy="370.5" r="1.12" fill="#C41432"/>
<circle cx="338" cy="373" r="1.12" fill="#C41432"/>
<circle cx="330" cy="374.8" r="1.12" fill="#C41432"/>
<circle cx="338" cy="375" r="1.12" fill="#C41432"/>
<circle cx="334" cy="373.5" r="1.12" fill="#C41432"/>
<circle cx="334" cy="384.5" r="1.12" fill="#C41432"/>
<circle cx="334" cy="391.6" r="1.12" fill="#C41432"/>
<line x1="300" y1="349.6" x2="300" y2="416.15" stroke="#2a2a2a" stroke-width="1.25" />
<line x1="297" y1="352.6" x2="300" y2="352.6" stroke="#2a2a2a" stroke-width="1" />
<text x="293.8" y="352.6" font-size="6.9" text-anchor="end" fill="#333333" dominant-baseline="central" textLength="7.06" lengthAdjust="spacingAndGlyphs" >30</text>
<line x1="297" y1="373.58" x2="300" y2="373.58" stroke="#2a2a2a" stroke-width="1" />
<text x="293.8" y="373.58" font-size="6.9" text-anchor="end" fill="#333333" dominant-baseline="central" textLength="7.06" lengthAdjust="spacingAndGlyphs" >20</text>
<line x1="297" y1="394.57" x2="300" y2="394.57" stroke="#2a2a2a" stroke-width="1" />
<text x="293.8" y="394.57" font-size="6.9" text-anchor="end" fill="#333333" dominant-baseline="central" textLength="7.06" lengthAdjust="spacingAndGlyphs" >10</text>
<line x1="297" y1="415.55" x2="300" y2="415.55" stroke="#2a2a2a" stroke-width="1" />
<text x="293.8" y="415.55" font-size="6.9" text-anchor="end" fill="#333333" dominant-baseline="central" textLength="3.53" lengthAdjust="spacingAndGlyphs" >0</text>
<line x1="299.4" y1="415.55" x2="345.2" y2="415.55" stroke="#2a2a2a" stroke-width="1.3" />
<text x="279.9" y="382.98" font-size="8.2" text-anchor="middle" fill="#1f1f1f" dominant-baseline="central" textLength="46.3" lengthAdjust="spacingAndGlyphs" transform="rotate(-90 279.9 382.98)" >% of blood cells</text>
<text x="354.3" y="344.6" font-size="11" font-weight="bold" fill="#111">U</text>
<text x="406.85" y="341.8" font-size="8.5" text-anchor="middle" fill="#262626" dominant-baseline="central" textLength="44.1" lengthAdjust="spacingAndGlyphs" stroke="#262626" stroke-width="0.08">Neutrophils</text>
<rect x="386.9" y="394.6" width="16.5" height="20.95" fill="#8995BD"/>
<rect x="410.1" y="390.4" width="16.1" height="25.15" fill="#E68A7A"/>
<line x1="395.2" y1="386" x2="395.2" y2="403.5" stroke="#1B2B4D" stroke-width="1.2" />
<line x1="391.1" y1="386" x2="399.3" y2="386" stroke="#1B2B4D" stroke-width="1.2" />
<line x1="391.1" y1="403.5" x2="399.3" y2="403.5" stroke="#1B2B4D" stroke-width="1.2" />
<line x1="418" y1="378.5" x2="418" y2="401.3" stroke="#3A2226" stroke-width="1.2" />
<line x1="413.9" y1="378.5" x2="422.1" y2="378.5" stroke="#3A2226" stroke-width="1.2" />
<line x1="413.9" y1="401.3" x2="422.1" y2="401.3" stroke="#3A2226" stroke-width="1.2" />
<circle cx="395.2" cy="375.5" r="1.12" fill="#1E3D72"/>
<circle cx="389.2" cy="392" r="1.12" fill="#1E3D72"/>
<circle cx="389.2" cy="394.5" r="1.12" fill="#1E3D72"/>
<circle cx="393.2" cy="392.5" r="1.12" fill="#1E3D72"/>
<circle cx="397.2" cy="394.5" r="1.12" fill="#1E3D72"/>
<circle cx="401.2" cy="393" r="1.12" fill="#1E3D72"/>
<circle cx="393.2" cy="403" r="1.12" fill="#1E3D72"/>
<circle cx="397.2" cy="403.5" r="1.12" fill="#1E3D72"/>
<circle cx="395.2" cy="405" r="1.12" fill="#1E3D72"/>
<circle cx="418" cy="362.4" r="1.12" fill="#C41432"/>
<circle cx="418" cy="376.8" r="1.12" fill="#C41432"/>
<circle cx="412" cy="393.5" r="1.12" fill="#C41432"/>
<circle cx="412" cy="395.5" r="1.12" fill="#C41432"/>
<circle cx="412" cy="398" r="1.12" fill="#C41432"/>
<circle cx="416" cy="394" r="1.12" fill="#C41432"/>
<circle cx="420" cy="394" r="1.12" fill="#C41432"/>
<circle cx="420" cy="397" r="1.12" fill="#C41432"/>
<circle cx="424" cy="392" r="1.12" fill="#C41432"/>
<circle cx="424" cy="396" r="1.12" fill="#C41432"/>
<line x1="384" y1="349.6" x2="384" y2="416.15" stroke="#2a2a2a" stroke-width="1.25" />
<line x1="381" y1="352.6" x2="384" y2="352.6" stroke="#2a2a2a" stroke-width="1" />
<text x="377.8" y="352.6" font-size="6.9" text-anchor="end" fill="#333333" dominant-baseline="central" textLength="7.06" lengthAdjust="spacingAndGlyphs" >40</text>
<line x1="381" y1="368.34" x2="384" y2="368.34" stroke="#2a2a2a" stroke-width="1" />
<text x="377.8" y="368.34" font-size="6.9" text-anchor="end" fill="#333333" dominant-baseline="central" textLength="7.06" lengthAdjust="spacingAndGlyphs" >30</text>
<line x1="381" y1="384.08" x2="384" y2="384.08" stroke="#2a2a2a" stroke-width="1" />
<text x="377.8" y="384.08" font-size="6.9" text-anchor="end" fill="#333333" dominant-baseline="central" textLength="7.06" lengthAdjust="spacingAndGlyphs" >20</text>
<line x1="381" y1="399.81" x2="384" y2="399.81" stroke="#2a2a2a" stroke-width="1" />
<text x="377.8" y="399.81" font-size="6.9" text-anchor="end" fill="#333333" dominant-baseline="central" textLength="7.06" lengthAdjust="spacingAndGlyphs" >10</text>
<line x1="381" y1="415.55" x2="384" y2="415.55" stroke="#2a2a2a" stroke-width="1" />
<text x="377.8" y="415.55" font-size="6.9" text-anchor="end" fill="#333333" dominant-baseline="central" textLength="3.53" lengthAdjust="spacingAndGlyphs" >0</text>
<line x1="383.4" y1="415.55" x2="429.2" y2="415.55" stroke="#2a2a2a" stroke-width="1.3" />
<text x="364.6" y="382.98" font-size="8.2" text-anchor="middle" fill="#1f1f1f" dominant-baseline="central" textLength="46.3" lengthAdjust="spacingAndGlyphs" transform="rotate(-90 364.6 382.98)" >% of blood cells</text>
<text x="437.6" y="344.6" font-size="11" font-weight="bold" fill="#111">V</text>
<text x="490.55" y="341.8" font-size="8.5" text-anchor="middle" fill="#262626" dominant-baseline="central" textLength="41.5" lengthAdjust="spacingAndGlyphs" stroke="#262626" stroke-width="0.08">Monocytes</text>
<rect x="470.9" y="394.9" width="16.5" height="20.65" fill="#8995BD"/>
<rect x="494.1" y="385" width="16.1" height="30.55" fill="#E68A7A"/>
<line x1="479.2" y1="389.9" x2="479.2" y2="399.6" stroke="#1B2B4D" stroke-width="1.2" />
<line x1="475.1" y1="389.9" x2="483.3" y2="389.9" stroke="#1B2B4D" stroke-width="1.2" />
<line x1="475.1" y1="399.6" x2="483.3" y2="399.6" stroke="#1B2B4D" stroke-width="1.2" />
<line x1="502" y1="376.5" x2="502" y2="391.3" stroke="#3A2226" stroke-width="1.2" />
<line x1="497.9" y1="376.5" x2="506.1" y2="376.5" stroke="#3A2226" stroke-width="1.2" />
<line x1="497.9" y1="391.3" x2="506.1" y2="391.3" stroke="#3A2226" stroke-width="1.2" />
<circle cx="475.2" cy="389" r="1.12" fill="#1E3D72"/>
<circle cx="483.2" cy="389" r="1.12" fill="#1E3D72"/>
<circle cx="477.2" cy="392" r="1.12" fill="#1E3D72"/>
<circle cx="481.2" cy="392" r="1.12" fill="#1E3D72"/>
<circle cx="473.2" cy="396.3" r="1.12" fill="#1E3D72"/>
<circle cx="477.2" cy="397.3" r="1.12" fill="#1E3D72"/>
<circle cx="481.2" cy="397" r="1.12" fill="#1E3D72"/>
<circle cx="485.2" cy="396.3" r="1.12" fill="#1E3D72"/>
<circle cx="479.2" cy="404.7" r="1.12" fill="#1E3D72"/>
<circle cx="502" cy="373.4" r="1.12" fill="#C41432"/>
<circle cx="500" cy="376.5" r="1.12" fill="#C41432"/>
<circle cx="504" cy="376.5" r="1.12" fill="#C41432"/>
<circle cx="500" cy="381.8" r="1.12" fill="#C41432"/>
<circle cx="504" cy="381.8" r="1.12" fill="#C41432"/>
<circle cx="500" cy="387" r="1.12" fill="#C41432"/>
<circle cx="504" cy="387" r="1.12" fill="#C41432"/>
<circle cx="498" cy="391" r="1.12" fill="#C41432"/>
<circle cx="506" cy="391" r="1.12" fill="#C41432"/>
<circle cx="502" cy="395" r="1.12" fill="#C41432"/>
<line x1="468" y1="349.6" x2="468" y2="416.15" stroke="#2a2a2a" stroke-width="1.25" />
<line x1="465" y1="352.6" x2="468" y2="352.6" stroke="#2a2a2a" stroke-width="1" />
<text x="461.8" y="352.6" font-size="6.9" text-anchor="end" fill="#333333" dominant-baseline="central" textLength="7.06" lengthAdjust="spacingAndGlyphs" >15</text>
<line x1="465" y1="373.58" x2="468" y2="373.58" stroke="#2a2a2a" stroke-width="1" />
<text x="461.8" y="373.58" font-size="6.9" text-anchor="end" fill="#333333" dominant-baseline="central" textLength="7.06" lengthAdjust="spacingAndGlyphs" >10</text>
<line x1="465" y1="394.57" x2="468" y2="394.57" stroke="#2a2a2a" stroke-width="1" />
<text x="461.8" y="394.57" font-size="6.9" text-anchor="end" fill="#333333" dominant-baseline="central" textLength="3.53" lengthAdjust="spacingAndGlyphs" >5</text>
<line x1="465" y1="415.55" x2="468" y2="415.55" stroke="#2a2a2a" stroke-width="1" />
<text x="461.8" y="415.55" font-size="6.9" text-anchor="end" fill="#333333" dominant-baseline="central" textLength="3.53" lengthAdjust="spacingAndGlyphs" >0</text>
<line x1="467.4" y1="415.55" x2="513.2" y2="415.55" stroke="#2a2a2a" stroke-width="1.3" />
<text x="448.2" y="382.98" font-size="8.2" text-anchor="middle" fill="#1f1f1f" dominant-baseline="central" textLength="46.3" lengthAdjust="spacingAndGlyphs" transform="rotate(-90 448.2 382.98)" >% of blood cells</text>
<line x1="479.2" y1="364.1" x2="502" y2="364.1" stroke="#3a3a3a" stroke-width="1.1" />
<path d="M490.6 359.75L490.6 361.85M491.51 360.28L489.69 361.32M491.51 361.32L489.69 360.28" stroke="#3a3a3a" stroke-width="0.75" fill="none"/>
<text x="6.8" y="443.9" font-size="11.4" font-weight="bold" fill="#111">W</text>
<text x="80.38" y="439.3" font-size="8.5" text-anchor="middle" fill="#262626" dominant-baseline="central" textLength="58.25" lengthAdjust="spacingAndGlyphs" stroke="#262626" stroke-width="0.08">All CD45<tspan font-size="4.6" dy="-2.6">+</tspan><tspan dy="2.6"> cells</tspan></text>
<line x1="47.35" y1="448.2" x2="47.35" y2="517" stroke="#2a2a2a" stroke-width="1.25" />
<line x1="44.35" y1="516.4" x2="47.35" y2="516.4" stroke="#2a2a2a" stroke-width="1" />
<text x="40.85" y="516.4" font-size="6.9" text-anchor="end" fill="#333333" dominant-baseline="central" textLength="3.53" lengthAdjust="spacingAndGlyphs" >0</text>
<line x1="44.35" y1="503.3" x2="47.35" y2="503.3" stroke="#2a2a2a" stroke-width="1" />
<text x="40.85" y="503.3" font-size="6.9" text-anchor="end" fill="#333333" dominant-baseline="central" textLength="7.06" lengthAdjust="spacingAndGlyphs" >20</text>
<line x1="44.35" y1="490.2" x2="47.35" y2="490.2" stroke="#2a2a2a" stroke-width="1" />
<text x="40.85" y="490.2" font-size="6.9" text-anchor="end" fill="#333333" dominant-baseline="central" textLength="7.06" lengthAdjust="spacingAndGlyphs" >40</text>
<line x1="44.35" y1="477.1" x2="47.35" y2="477.1" stroke="#2a2a2a" stroke-width="1" />
<text x="40.85" y="477.1" font-size="6.9" text-anchor="end" fill="#333333" dominant-baseline="central" textLength="7.06" lengthAdjust="spacingAndGlyphs" >60</text>
<line x1="44.35" y1="464" x2="47.35" y2="464" stroke="#2a2a2a" stroke-width="1" />
<text x="40.85" y="464" font-size="6.9" text-anchor="end" fill="#333333" dominant-baseline="central" textLength="7.06" lengthAdjust="spacingAndGlyphs" >80</text>
<line x1="44.35" y1="450.9" x2="47.35" y2="450.9" stroke="#2a2a2a" stroke-width="1" />
<text x="40.85" y="450.9" font-size="6.9" text-anchor="end" fill="#333333" dominant-baseline="central" textLength="10.59" lengthAdjust="spacingAndGlyphs" >100</text>
<line x1="46.75" y1="516.4" x2="110.85" y2="516.4" stroke="#2a2a2a" stroke-width="1.35" />
<line x1="55.4" y1="516.4" x2="55.4" y2="519.4" stroke="#2a2a2a" stroke-width="0.9" />
<text x="55.4" y="525.4" font-size="6.9" text-anchor="middle" fill="#333333" dominant-baseline="central" textLength="3.53" lengthAdjust="spacingAndGlyphs" >4</text>
<line x1="71.73" y1="516.4" x2="71.73" y2="519.4" stroke="#2a2a2a" stroke-width="0.9" />
<text x="71.73" y="525.4" font-size="6.9" text-anchor="middle" fill="#333333" dominant-baseline="central" textLength="3.53" lengthAdjust="spacingAndGlyphs" >8</text>
<line x1="88.06" y1="516.4" x2="88.06" y2="519.4" stroke="#2a2a2a" stroke-width="0.9" />
<text x="88.06" y="525.4" font-size="6.9" text-anchor="middle" fill="#333333" dominant-baseline="central" textLength="7.06" lengthAdjust="spacingAndGlyphs" >12</text>
<line x1="104.39" y1="516.4" x2="104.39" y2="519.4" stroke="#2a2a2a" stroke-width="0.9" />
<text x="104.39" y="525.4" font-size="6.9" text-anchor="middle" fill="#333333" dominant-baseline="central" textLength="7.06" lengthAdjust="spacingAndGlyphs" >16</text>
<text x="22.75" y="482.5" font-size="8.6" text-anchor="middle" fill="#1f1f1f" dominant-baseline="central" textLength="56.4" lengthAdjust="spacingAndGlyphs" transform="rotate(-90 22.75 482.5)" >% of donor-derived</text>
<line x1="55.4" y1="504.6" x2="55.4" y2="509" stroke="#45709F" stroke-width="0.7" />
<line x1="54.3" y1="504.6" x2="56.5" y2="504.6" stroke="#45709F" stroke-width="0.7" />
<line x1="54.3" y1="509" x2="56.5" y2="509" stroke="#45709F" stroke-width="0.7" />
<line x1="71.73" y1="505.5" x2="71.73" y2="509.2" stroke="#45709F" stroke-width="0.7" />
<line x1="70.63" y1="505.5" x2="72.83" y2="505.5" stroke="#45709F" stroke-width="0.7" />
<line x1="70.63" y1="509.2" x2="72.83" y2="509.2" stroke="#45709F" stroke-width="0.7" />
<line x1="88.06" y1="503.75" x2="88.06" y2="509.2" stroke="#45709F" stroke-width="0.7" />
<line x1="86.96" y1="503.75" x2="89.16" y2="503.75" stroke="#45709F" stroke-width="0.7" />
<line x1="86.96" y1="509.2" x2="89.16" y2="509.2" stroke="#45709F" stroke-width="0.7" />
<line x1="104.39" y1="500.5" x2="104.39" y2="507.5" stroke="#45709F" stroke-width="0.7" />
<line x1="103.29" y1="500.5" x2="105.49" y2="500.5" stroke="#45709F" stroke-width="0.7" />
<line x1="103.29" y1="507.5" x2="105.49" y2="507.5" stroke="#45709F" stroke-width="0.7" />
<line x1="55.4" y1="475.5" x2="55.4" y2="484.5" stroke="#BE2C4C" stroke-width="0.7" />
<line x1="54.3" y1="475.5" x2="56.5" y2="475.5" stroke="#BE2C4C" stroke-width="0.7" />
<line x1="54.3" y1="484.5" x2="56.5" y2="484.5" stroke="#BE2C4C" stroke-width="0.7" />
<line x1="71.73" y1="468" x2="71.73" y2="474.25" stroke="#BE2C4C" stroke-width="0.7" />
<line x1="70.63" y1="468" x2="72.83" y2="468" stroke="#BE2C4C" stroke-width="0.7" />
<line x1="70.63" y1="474.25" x2="72.83" y2="474.25" stroke="#BE2C4C" stroke-width="0.7" />
<line x1="88.06" y1="468.25" x2="88.06" y2="474.25" stroke="#BE2C4C" stroke-width="0.7" />
<line x1="86.96" y1="468.25" x2="89.16" y2="468.25" stroke="#BE2C4C" stroke-width="0.7" />
<line x1="86.96" y1="474.25" x2="89.16" y2="474.25" stroke="#BE2C4C" stroke-width="0.7" />
<line x1="104.39" y1="467.5" x2="104.39" y2="473" stroke="#BE2C4C" stroke-width="0.7" />
<line x1="103.29" y1="467.5" x2="105.49" y2="467.5" stroke="#BE2C4C" stroke-width="0.7" />
<line x1="103.29" y1="473" x2="105.49" y2="473" stroke="#BE2C4C" stroke-width="0.7" />
<polyline points="55.4,484.5 71.73,474.25 88.06,474.25 104.39,473" fill="none" stroke="#BE2C4C" stroke-width="1.15"/>
<polyline points="55.4,509 71.73,509.2 88.06,509.2 104.39,507.5" fill="none" stroke="#45709F" stroke-width="1.0"/>
<circle cx="55.4" cy="484.5" r="1.05" fill="#BE2C4C"/>
<circle cx="71.73" cy="474.25" r="1.05" fill="#BE2C4C"/>
<circle cx="88.06" cy="474.25" r="1.05" fill="#BE2C4C"/>
<circle cx="104.39" cy="473" r="1.05" fill="#BE2C4C"/>
<circle cx="55.4" cy="509" r="0.95" fill="#2e4f7e"/>
<circle cx="71.73" cy="509.2" r="0.95" fill="#2e4f7e"/>
<circle cx="88.06" cy="509.2" r="0.95" fill="#2e4f7e"/>
<circle cx="104.39" cy="507.5" r="0.95" fill="#2e4f7e"/>
<path d="M51.35 471.9L51.35 474.1M52.3 472.45L50.4 473.55M52.3 473.55L50.4 472.45" stroke="#2e2e2e" stroke-width="0.75" fill="none"/>
<path d="M54.05 471.9L54.05 474.1M55 472.45L53.1 473.55M55 473.55L53.1 472.45" stroke="#2e2e2e" stroke-width="0.75" fill="none"/>
<path d="M56.75 471.9L56.75 474.1M57.7 472.45L55.8 473.55M57.7 473.55L55.8 472.45" stroke="#2e2e2e" stroke-width="0.75" fill="none"/>
<path d="M59.45 471.9L59.45 474.1M60.4 472.45L58.5 473.55M60.4 473.55L58.5 472.45" stroke="#2e2e2e" stroke-width="0.75" fill="none"/>
<path d="M67.68 464.9L67.68 467.1M68.63 465.45L66.73 466.55M68.63 466.55L66.73 465.45" stroke="#2e2e2e" stroke-width="0.75" fill="none"/>
<path d="M70.38 464.9L70.38 467.1M71.33 465.45L69.43 466.55M71.33 466.55L69.43 465.45" stroke="#2e2e2e" stroke-width="0.75" fill="none"/>
<path d="M73.08 464.9L73.08 467.1M74.03 465.45L72.13 466.55M74.03 466.55L72.13 465.45" stroke="#2e2e2e" stroke-width="0.75" fill="none"/>
<path d="M75.78 464.9L75.78 467.1M76.73 465.45L74.83 466.55M76.73 466.55L74.83 465.45" stroke="#2e2e2e" stroke-width="0.75" fill="none"/>
<path d="M84.01 464.9L84.01 467.1M84.96 465.45L83.06 466.55M84.96 466.55L83.06 465.45" stroke="#2e2e2e" stroke-width="0.75" fill="none"/>
<path d="M86.71 464.9L86.71 467.1M87.66 465.45L85.76 466.55M87.66 466.55L85.76 465.45" stroke="#2e2e2e" stroke-width="0.75" fill="none"/>
<path d="M89.41 464.9L89.41 467.1M90.36 465.45L88.46 466.55M90.36 466.55L88.46 465.45" stroke="#2e2e2e" stroke-width="0.75" fill="none"/>
<path d="M92.11 464.9L92.11 467.1M93.06 465.45L91.16 466.55M93.06 466.55L91.16 465.45" stroke="#2e2e2e" stroke-width="0.75" fill="none"/>
<path d="M100.34 464.9L100.34 467.1M101.29 465.45L99.39 466.55M101.29 466.55L99.39 465.45" stroke="#2e2e2e" stroke-width="0.75" fill="none"/>
<path d="M103.04 464.9L103.04 467.1M103.99 465.45L102.09 466.55M103.99 466.55L102.09 465.45" stroke="#2e2e2e" stroke-width="0.75" fill="none"/>
<path d="M105.74 464.9L105.74 467.1M106.69 465.45L104.79 466.55M106.69 466.55L104.79 465.45" stroke="#2e2e2e" stroke-width="0.75" fill="none"/>
<path d="M108.44 464.9L108.44 467.1M109.39 465.45L107.49 466.55M109.39 466.55L107.49 465.45" stroke="#2e2e2e" stroke-width="0.75" fill="none"/>
<polyline points="107,477.5 109.2,477.5 109.2,508 107,508" fill="none" stroke="#3a3a3a" stroke-width="1.2"/>
<path d="M113.8 487.6L113.8 489.8M114.75 488.15L112.85 489.25M114.75 489.25L112.85 488.15" stroke="#2e2e2e" stroke-width="0.75" fill="none"/>
<path d="M113.8 490.3L113.8 492.5M114.75 490.85L112.85 491.95M114.75 491.95L112.85 490.85" stroke="#2e2e2e" stroke-width="0.75" fill="none"/>
<path d="M113.8 493L113.8 495.2M114.75 493.55L112.85 494.65M114.75 494.65L112.85 493.55" stroke="#2e2e2e" stroke-width="0.75" fill="none"/>
<path d="M113.8 495.7L113.8 497.9M114.75 496.25L112.85 497.35M114.75 497.35L112.85 496.25" stroke="#2e2e2e" stroke-width="0.75" fill="none"/>
<text x="192.25" y="439.3" font-size="8.5" text-anchor="middle" fill="#262626" dominant-baseline="central" textLength="49.5" lengthAdjust="spacingAndGlyphs" stroke="#262626" stroke-width="0.08">Myeloid cells</text>
<line x1="159.35" y1="448.2" x2="159.35" y2="517" stroke="#2a2a2a" stroke-width="1.25" />
<line x1="156.35" y1="516.4" x2="159.35" y2="516.4" stroke="#2a2a2a" stroke-width="1" />
<text x="152.85" y="516.4" font-size="6.9" text-anchor="end" fill="#333333" dominant-baseline="central" textLength="3.53" lengthAdjust="spacingAndGlyphs" >0</text>
<line x1="156.35" y1="503.3" x2="159.35" y2="503.3" stroke="#2a2a2a" stroke-width="1" />
<text x="152.85" y="503.3" font-size="6.9" text-anchor="end" fill="#333333" dominant-baseline="central" textLength="7.06" lengthAdjust="spacingAndGlyphs" >20</text>
<line x1="156.35" y1="490.2" x2="159.35" y2="490.2" stroke="#2a2a2a" stroke-width="1" />
<text x="152.85" y="490.2" font-size="6.9" text-anchor="end" fill="#333333" dominant-baseline="central" textLength="7.06" lengthAdjust="spacingAndGlyphs" >40</text>
<line x1="156.35" y1="477.1" x2="159.35" y2="477.1" stroke="#2a2a2a" stroke-width="1" />
<text x="152.85" y="477.1" font-size="6.9" text-anchor="end" fill="#333333" dominant-baseline="central" textLength="7.06" lengthAdjust="spacingAndGlyphs" >60</text>
<line x1="156.35" y1="464" x2="159.35" y2="464" stroke="#2a2a2a" stroke-width="1" />
<text x="152.85" y="464" font-size="6.9" text-anchor="end" fill="#333333" dominant-baseline="central" textLength="7.06" lengthAdjust="spacingAndGlyphs" >80</text>
<line x1="156.35" y1="450.9" x2="159.35" y2="450.9" stroke="#2a2a2a" stroke-width="1" />
<text x="152.85" y="450.9" font-size="6.9" text-anchor="end" fill="#333333" dominant-baseline="central" textLength="10.59" lengthAdjust="spacingAndGlyphs" >100</text>
<line x1="158.75" y1="516.4" x2="222.85" y2="516.4" stroke="#2a2a2a" stroke-width="1.35" />
<line x1="167.4" y1="516.4" x2="167.4" y2="519.4" stroke="#2a2a2a" stroke-width="0.9" />
<text x="167.4" y="525.4" font-size="6.9" text-anchor="middle" fill="#333333" dominant-baseline="central" textLength="3.53" lengthAdjust="spacingAndGlyphs" >4</text>
<line x1="183.73" y1="516.4" x2="183.73" y2="519.4" stroke="#2a2a2a" stroke-width="0.9" />
<text x="183.73" y="525.4" font-size="6.9" text-anchor="middle" fill="#333333" dominant-baseline="central" textLength="3.53" lengthAdjust="spacingAndGlyphs" >8</text>
<line x1="200.06" y1="516.4" x2="200.06" y2="519.4" stroke="#2a2a2a" stroke-width="0.9" />
<text x="200.06" y="525.4" font-size="6.9" text-anchor="middle" fill="#333333" dominant-baseline="central" textLength="7.06" lengthAdjust="spacingAndGlyphs" >12</text>
<line x1="216.39" y1="516.4" x2="216.39" y2="519.4" stroke="#2a2a2a" stroke-width="0.9" />
<text x="216.39" y="525.4" font-size="6.9" text-anchor="middle" fill="#333333" dominant-baseline="central" textLength="7.06" lengthAdjust="spacingAndGlyphs" >16</text>
<text x="134.7" y="482.5" font-size="8.6" text-anchor="middle" fill="#1f1f1f" dominant-baseline="central" textLength="56.4" lengthAdjust="spacingAndGlyphs" transform="rotate(-90 134.7 482.5)" >% of donor-derived</text>
<line x1="167.4" y1="503.3" x2="167.4" y2="508.5" stroke="#45709F" stroke-width="0.7" />
<line x1="166.3" y1="503.3" x2="168.5" y2="503.3" stroke="#45709F" stroke-width="0.7" />
<line x1="166.3" y1="508.5" x2="168.5" y2="508.5" stroke="#45709F" stroke-width="0.7" />
<line x1="183.73" y1="498.25" x2="183.73" y2="506.25" stroke="#45709F" stroke-width="0.7" />
<line x1="182.63" y1="498.25" x2="184.83" y2="498.25" stroke="#45709F" stroke-width="0.7" />
<line x1="182.63" y1="506.25" x2="184.83" y2="506.25" stroke="#45709F" stroke-width="0.7" />
<line x1="200.06" y1="493.75" x2="200.06" y2="504.5" stroke="#45709F" stroke-width="0.7" />
<line x1="198.96" y1="493.75" x2="201.16" y2="493.75" stroke="#45709F" stroke-width="0.7" />
<line x1="198.96" y1="504.5" x2="201.16" y2="504.5" stroke="#45709F" stroke-width="0.7" />
<line x1="216.39" y1="490" x2="216.39" y2="503.75" stroke="#45709F" stroke-width="0.7" />
<line x1="215.29" y1="490" x2="217.49" y2="490" stroke="#45709F" stroke-width="0.7" />
<line x1="215.29" y1="503.75" x2="217.49" y2="503.75" stroke="#45709F" stroke-width="0.7" />
<line x1="167.4" y1="463.8" x2="167.4" y2="472.6" stroke="#BE2C4C" stroke-width="0.7" />
<line x1="166.3" y1="463.8" x2="168.5" y2="463.8" stroke="#BE2C4C" stroke-width="0.7" />
<line x1="166.3" y1="472.6" x2="168.5" y2="472.6" stroke="#BE2C4C" stroke-width="0.7" />
<line x1="183.73" y1="453" x2="183.73" y2="456.4" stroke="#BE2C4C" stroke-width="0.7" />
<line x1="182.63" y1="453" x2="184.83" y2="453" stroke="#BE2C4C" stroke-width="0.7" />
<line x1="182.63" y1="456.4" x2="184.83" y2="456.4" stroke="#BE2C4C" stroke-width="0.7" />
<line x1="200.06" y1="452" x2="200.06" y2="453.3" stroke="#BE2C4C" stroke-width="0.7" />
<line x1="198.96" y1="452" x2="201.16" y2="452" stroke="#BE2C4C" stroke-width="0.7" />
<line x1="198.96" y1="453.3" x2="201.16" y2="453.3" stroke="#BE2C4C" stroke-width="0.7" />
<line x1="216.39" y1="451.25" x2="216.39" y2="453.7" stroke="#BE2C4C" stroke-width="0.7" />
<line x1="215.29" y1="451.25" x2="217.49" y2="451.25" stroke="#BE2C4C" stroke-width="0.7" />
<line x1="215.29" y1="453.7" x2="217.49" y2="453.7" stroke="#BE2C4C" stroke-width="0.7" />
<polyline points="167.4,472.6 183.73,456.4 200.06,453.3 216.39,453.7" fill="none" stroke="#BE2C4C" stroke-width="1.15"/>
<polyline points="167.4,508.5 183.73,506.25 200.06,504.5 216.39,503.75" fill="none" stroke="#45709F" stroke-width="1.0"/>
<circle cx="167.4" cy="472.6" r="1.05" fill="#BE2C4C"/>
<circle cx="183.73" cy="456.4" r="1.05" fill="#BE2C4C"/>
<circle cx="200.06" cy="453.3" r="1.05" fill="#BE2C4C"/>
<circle cx="216.39" cy="453.7" r="1.05" fill="#BE2C4C"/>
<circle cx="167.4" cy="508.5" r="0.95" fill="#2e4f7e"/>
<circle cx="183.73" cy="506.25" r="0.95" fill="#2e4f7e"/>
<circle cx="200.06" cy="504.5" r="0.95" fill="#2e4f7e"/>
<circle cx="216.39" cy="503.75" r="0.95" fill="#2e4f7e"/>
<path d="M163.35 459.5L163.35 461.7M164.3 460.05L162.4 461.15M164.3 461.15L162.4 460.05" stroke="#2e2e2e" stroke-width="0.75" fill="none"/>
<path d="M166.05 459.5L166.05 461.7M167 460.05L165.1 461.15M167 461.15L165.1 460.05" stroke="#2e2e2e" stroke-width="0.75" fill="none"/>
<path d="M168.75 459.5L168.75 461.7M169.7 460.05L167.8 461.15M169.7 461.15L167.8 460.05" stroke="#2e2e2e" stroke-width="0.75" fill="none"/>
<path d="M171.45 459.5L171.45 461.7M172.4 460.05L170.5 461.15M172.4 461.15L170.5 460.05" stroke="#2e2e2e" stroke-width="0.75" fill="none"/>
<path d="M179.68 449L179.68 451.2M180.63 449.55L178.73 450.65M180.63 450.65L178.73 449.55" stroke="#2e2e2e" stroke-width="0.75" fill="none"/>
<path d="M182.38 449L182.38 451.2M183.33 449.55L181.43 450.65M183.33 450.65L181.43 449.55" stroke="#2e2e2e" stroke-width="0.75" fill="none"/>
<path d="M185.08 449L185.08 451.2M186.03 449.55L184.13 450.65M186.03 450.65L184.13 449.55" stroke="#2e2e2e" stroke-width="0.75" fill="none"/>
<path d="M187.78 449L187.78 451.2M188.73 449.55L186.83 450.65M188.73 450.65L186.83 449.55" stroke="#2e2e2e" stroke-width="0.75" fill="none"/>
<path d="M196.01 449L196.01 451.2M196.96 449.55L195.06 450.65M196.96 450.65L195.06 449.55" stroke="#2e2e2e" stroke-width="0.75" fill="none"/>
<path d="M198.71 449L198.71 451.2M199.66 449.55L197.76 450.65M199.66 450.65L197.76 449.55" stroke="#2e2e2e" stroke-width="0.75" fill="none"/>
<path d="M201.41 449L201.41 451.2M202.36 449.55L200.46 450.65M202.36 450.65L200.46 449.55" stroke="#2e2e2e" stroke-width="0.75" fill="none"/>
<path d="M204.11 449L204.11 451.2M205.06 449.55L203.16 450.65M205.06 450.65L203.16 449.55" stroke="#2e2e2e" stroke-width="0.75" fill="none"/>
<path d="M212.34 449L212.34 451.2M213.29 449.55L211.39 450.65M213.29 450.65L211.39 449.55" stroke="#2e2e2e" stroke-width="0.75" fill="none"/>
<path d="M215.04 449L215.04 451.2M215.99 449.55L214.09 450.65M215.99 450.65L214.09 449.55" stroke="#2e2e2e" stroke-width="0.75" fill="none"/>
<path d="M217.74 449L217.74 451.2M218.69 449.55L216.79 450.65M218.69 450.65L216.79 449.55" stroke="#2e2e2e" stroke-width="0.75" fill="none"/>
<path d="M220.44 449L220.44 451.2M221.39 449.55L219.49 450.65M221.39 450.65L219.49 449.55" stroke="#2e2e2e" stroke-width="0.75" fill="none"/>
<polyline points="221,453.75 223.2,453.75 223.2,503.75 221,503.75" fill="none" stroke="#3a3a3a" stroke-width="1.2"/>
<path d="M227.8 473.6L227.8 475.8M228.75 474.15L226.85 475.25M228.75 475.25L226.85 474.15" stroke="#2e2e2e" stroke-width="0.75" fill="none"/>
<path d="M227.8 476.3L227.8 478.5M228.75 476.85L226.85 477.95M228.75 477.95L226.85 476.85" stroke="#2e2e2e" stroke-width="0.75" fill="none"/>
<path d="M227.8 479L227.8 481.2M228.75 479.55L226.85 480.65M228.75 480.65L226.85 479.55" stroke="#2e2e2e" stroke-width="0.75" fill="none"/>
<path d="M227.8 481.7L227.8 483.9M228.75 482.25L226.85 483.35M228.75 483.35L226.85 482.25" stroke="#2e2e2e" stroke-width="0.75" fill="none"/>
<text x="306.25" y="439.3" font-size="8.5" text-anchor="middle" fill="#262626" dominant-baseline="central" textLength="23.5" lengthAdjust="spacingAndGlyphs" stroke="#262626" stroke-width="0.08">B cells</text>
<line x1="273.35" y1="448.2" x2="273.35" y2="517" stroke="#2a2a2a" stroke-width="1.25" />
<line x1="270.35" y1="516.4" x2="273.35" y2="516.4" stroke="#2a2a2a" stroke-width="1" />
<text x="266.85" y="516.4" font-size="6.9" text-anchor="end" fill="#333333" dominant-baseline="central" textLength="3.53" lengthAdjust="spacingAndGlyphs" >0</text>
<line x1="270.35" y1="503.3" x2="273.35" y2="503.3" stroke="#2a2a2a" stroke-width="1" />
<text x="266.85" y="503.3" font-size="6.9" text-anchor="end" fill="#333333" dominant-baseline="central" textLength="7.06" lengthAdjust="spacingAndGlyphs" >20</text>
<line x1="270.35" y1="490.2" x2="273.35" y2="490.2" stroke="#2a2a2a" stroke-width="1" />
<text x="266.85" y="490.2" font-size="6.9" text-anchor="end" fill="#333333" dominant-baseline="central" textLength="7.06" lengthAdjust="spacingAndGlyphs" >40</text>
<line x1="270.35" y1="477.1" x2="273.35" y2="477.1" stroke="#2a2a2a" stroke-width="1" />
<text x="266.85" y="477.1" font-size="6.9" text-anchor="end" fill="#333333" dominant-baseline="central" textLength="7.06" lengthAdjust="spacingAndGlyphs" >60</text>
<line x1="270.35" y1="464" x2="273.35" y2="464" stroke="#2a2a2a" stroke-width="1" />
<text x="266.85" y="464" font-size="6.9" text-anchor="end" fill="#333333" dominant-baseline="central" textLength="7.06" lengthAdjust="spacingAndGlyphs" >80</text>
<line x1="270.35" y1="450.9" x2="273.35" y2="450.9" stroke="#2a2a2a" stroke-width="1" />
<text x="266.85" y="450.9" font-size="6.9" text-anchor="end" fill="#333333" dominant-baseline="central" textLength="10.59" lengthAdjust="spacingAndGlyphs" >100</text>
<line x1="272.75" y1="516.4" x2="336.85" y2="516.4" stroke="#2a2a2a" stroke-width="1.35" />
<line x1="281.4" y1="516.4" x2="281.4" y2="519.4" stroke="#2a2a2a" stroke-width="0.9" />
<text x="281.4" y="525.4" font-size="6.9" text-anchor="middle" fill="#333333" dominant-baseline="central" textLength="3.53" lengthAdjust="spacingAndGlyphs" >4</text>
<line x1="297.73" y1="516.4" x2="297.73" y2="519.4" stroke="#2a2a2a" stroke-width="0.9" />
<text x="297.73" y="525.4" font-size="6.9" text-anchor="middle" fill="#333333" dominant-baseline="central" textLength="3.53" lengthAdjust="spacingAndGlyphs" >8</text>
<line x1="314.06" y1="516.4" x2="314.06" y2="519.4" stroke="#2a2a2a" stroke-width="0.9" />
<text x="314.06" y="525.4" font-size="6.9" text-anchor="middle" fill="#333333" dominant-baseline="central" textLength="7.06" lengthAdjust="spacingAndGlyphs" >12</text>
<line x1="330.39" y1="516.4" x2="330.39" y2="519.4" stroke="#2a2a2a" stroke-width="0.9" />
<text x="330.39" y="525.4" font-size="6.9" text-anchor="middle" fill="#333333" dominant-baseline="central" textLength="7.06" lengthAdjust="spacingAndGlyphs" >16</text>
<text x="248.8" y="482.5" font-size="8.6" text-anchor="middle" fill="#1f1f1f" dominant-baseline="central" textLength="56.4" lengthAdjust="spacingAndGlyphs" transform="rotate(-90 248.8 482.5)" >% of donor-derived</text>
<line x1="281.4" y1="504.4" x2="281.4" y2="509.7" stroke="#45709F" stroke-width="0.7" />
<line x1="280.3" y1="504.4" x2="282.5" y2="504.4" stroke="#45709F" stroke-width="0.7" />
<line x1="280.3" y1="509.7" x2="282.5" y2="509.7" stroke="#45709F" stroke-width="0.7" />
<line x1="297.73" y1="505.5" x2="297.73" y2="509.7" stroke="#45709F" stroke-width="0.7" />
<line x1="296.63" y1="505.5" x2="298.83" y2="505.5" stroke="#45709F" stroke-width="0.7" />
<line x1="296.63" y1="509.7" x2="298.83" y2="509.7" stroke="#45709F" stroke-width="0.7" />
<line x1="314.06" y1="504.25" x2="314.06" y2="509" stroke="#45709F" stroke-width="0.7" />
<line x1="312.96" y1="504.25" x2="315.16" y2="504.25" stroke="#45709F" stroke-width="0.7" />
<line x1="312.96" y1="509" x2="315.16" y2="509" stroke="#45709F" stroke-width="0.7" />
<line x1="330.39" y1="501.75" x2="330.39" y2="508" stroke="#45709F" stroke-width="0.7" />
<line x1="329.29" y1="501.75" x2="331.49" y2="501.75" stroke="#45709F" stroke-width="0.7" />
<line x1="329.29" y1="508" x2="331.49" y2="508" stroke="#45709F" stroke-width="0.7" />
<line x1="281.4" y1="476.25" x2="281.4" y2="488.25" stroke="#BE2C4C" stroke-width="0.7" />
<line x1="280.3" y1="476.25" x2="282.5" y2="476.25" stroke="#BE2C4C" stroke-width="0.7" />
<line x1="280.3" y1="488.25" x2="282.5" y2="488.25" stroke="#BE2C4C" stroke-width="0.7" />
<line x1="297.73" y1="465.75" x2="297.73" y2="472.5" stroke="#BE2C4C" stroke-width="0.7" />
<line x1="296.63" y1="465.75" x2="298.83" y2="465.75" stroke="#BE2C4C" stroke-width="0.7" />
<line x1="296.63" y1="472.5" x2="298.83" y2="472.5" stroke="#BE2C4C" stroke-width="0.7" />
<line x1="314.06" y1="465.75" x2="314.06" y2="471.75" stroke="#BE2C4C" stroke-width="0.7" />
<line x1="312.96" y1="465.75" x2="315.16" y2="465.75" stroke="#BE2C4C" stroke-width="0.7" />
<line x1="312.96" y1="471.75" x2="315.16" y2="471.75" stroke="#BE2C4C" stroke-width="0.7" />
<line x1="330.39" y1="465" x2="330.39" y2="471.25" stroke="#BE2C4C" stroke-width="0.7" />
<line x1="329.29" y1="465" x2="331.49" y2="465" stroke="#BE2C4C" stroke-width="0.7" />
<line x1="329.29" y1="471.25" x2="331.49" y2="471.25" stroke="#BE2C4C" stroke-width="0.7" />
<polyline points="281.4,488.25 297.73,472.5 314.06,471.75 330.39,471.25" fill="none" stroke="#BE2C4C" stroke-width="1.15"/>
<polyline points="281.4,509.7 297.73,509.7 314.06,509 330.39,508" fill="none" stroke="#45709F" stroke-width="1.0"/>
<circle cx="281.4" cy="488.25" r="1.05" fill="#BE2C4C"/>
<circle cx="297.73" cy="472.5" r="1.05" fill="#BE2C4C"/>
<circle cx="314.06" cy="471.75" r="1.05" fill="#BE2C4C"/>
<circle cx="330.39" cy="471.25" r="1.05" fill="#BE2C4C"/>
<circle cx="281.4" cy="509.7" r="0.95" fill="#2e4f7e"/>
<circle cx="297.73" cy="509.7" r="0.95" fill="#2e4f7e"/>
<circle cx="314.06" cy="509" r="0.95" fill="#2e4f7e"/>
<circle cx="330.39" cy="508" r="0.95" fill="#2e4f7e"/>
<path d="M277.35 473.1L277.35 475.3M278.3 473.65L276.4 474.75M278.3 474.75L276.4 473.65" stroke="#2e2e2e" stroke-width="0.75" fill="none"/>
<path d="M280.05 473.1L280.05 475.3M281 473.65L279.1 474.75M281 474.75L279.1 473.65" stroke="#2e2e2e" stroke-width="0.75" fill="none"/>
<path d="M282.75 473.1L282.75 475.3M283.7 473.65L281.8 474.75M283.7 474.75L281.8 473.65" stroke="#2e2e2e" stroke-width="0.75" fill="none"/>
<path d="M285.45 473.1L285.45 475.3M286.4 473.65L284.5 474.75M286.4 474.75L284.5 473.65" stroke="#2e2e2e" stroke-width="0.75" fill="none"/>
<path d="M293.68 460.9L293.68 463.1M294.63 461.45L292.73 462.55M294.63 462.55L292.73 461.45" stroke="#2e2e2e" stroke-width="0.75" fill="none"/>
<path d="M296.38 460.9L296.38 463.1M297.33 461.45L295.43 462.55M297.33 462.55L295.43 461.45" stroke="#2e2e2e" stroke-width="0.75" fill="none"/>
<path d="M299.08 460.9L299.08 463.1M300.03 461.45L298.13 462.55M300.03 462.55L298.13 461.45" stroke="#2e2e2e" stroke-width="0.75" fill="none"/>
<path d="M301.78 460.9L301.78 463.1M302.73 461.45L300.83 462.55M302.73 462.55L300.83 461.45" stroke="#2e2e2e" stroke-width="0.75" fill="none"/>
<path d="M310.01 460.9L310.01 463.1M310.96 461.45L309.06 462.55M310.96 462.55L309.06 461.45" stroke="#2e2e2e" stroke-width="0.75" fill="none"/>
<path d="M312.71 460.9L312.71 463.1M313.66 461.45L311.76 462.55M313.66 462.55L311.76 461.45" stroke="#2e2e2e" stroke-width="0.75" fill="none"/>
<path d="M315.41 460.9L315.41 463.1M316.36 461.45L314.46 462.55M316.36 462.55L314.46 461.45" stroke="#2e2e2e" stroke-width="0.75" fill="none"/>
<path d="M318.11 460.9L318.11 463.1M319.06 461.45L317.16 462.55M319.06 462.55L317.16 461.45" stroke="#2e2e2e" stroke-width="0.75" fill="none"/>
<path d="M326.34 460.9L326.34 463.1M327.29 461.45L325.39 462.55M327.29 462.55L325.39 461.45" stroke="#2e2e2e" stroke-width="0.75" fill="none"/>
<path d="M329.04 460.9L329.04 463.1M329.99 461.45L328.09 462.55M329.99 462.55L328.09 461.45" stroke="#2e2e2e" stroke-width="0.75" fill="none"/>
<path d="M331.74 460.9L331.74 463.1M332.69 461.45L330.79 462.55M332.69 462.55L330.79 461.45" stroke="#2e2e2e" stroke-width="0.75" fill="none"/>
<path d="M334.44 460.9L334.44 463.1M335.39 461.45L333.49 462.55M335.39 462.55L333.49 461.45" stroke="#2e2e2e" stroke-width="0.75" fill="none"/>
<polyline points="335,471.25 337.2,471.25 337.2,507.6 335,507.6" fill="none" stroke="#3a3a3a" stroke-width="1.2"/>
<path d="M341.8 484.27L341.8 486.48M342.75 484.82L340.85 485.93M342.75 485.93L340.85 484.82" stroke="#2e2e2e" stroke-width="0.75" fill="none"/>
<path d="M341.8 486.97L341.8 489.18M342.75 487.52L340.85 488.62M342.75 488.62L340.85 487.52" stroke="#2e2e2e" stroke-width="0.75" fill="none"/>
<path d="M341.8 489.68L341.8 491.88M342.75 490.23L340.85 491.33M342.75 491.33L340.85 490.23" stroke="#2e2e2e" stroke-width="0.75" fill="none"/>
<path d="M341.8 492.38L341.8 494.58M342.75 492.93L340.85 494.03M342.75 494.03L340.85 492.93" stroke="#2e2e2e" stroke-width="0.75" fill="none"/>
<text x="419" y="439.3" font-size="8.5" text-anchor="middle" fill="#262626" dominant-baseline="central" textLength="23" lengthAdjust="spacingAndGlyphs" stroke="#262626" stroke-width="0.08">T cells</text>
<line x1="385.8" y1="448.2" x2="385.8" y2="517" stroke="#2a2a2a" stroke-width="1.25" />
<line x1="382.8" y1="516.4" x2="385.8" y2="516.4" stroke="#2a2a2a" stroke-width="1" />
<text x="379.3" y="516.4" font-size="6.9" text-anchor="end" fill="#333333" dominant-baseline="central" textLength="3.53" lengthAdjust="spacingAndGlyphs" >0</text>
<line x1="382.8" y1="503.3" x2="385.8" y2="503.3" stroke="#2a2a2a" stroke-width="1" />
<text x="379.3" y="503.3" font-size="6.9" text-anchor="end" fill="#333333" dominant-baseline="central" textLength="7.06" lengthAdjust="spacingAndGlyphs" >20</text>
<line x1="382.8" y1="490.2" x2="385.8" y2="490.2" stroke="#2a2a2a" stroke-width="1" />
<text x="379.3" y="490.2" font-size="6.9" text-anchor="end" fill="#333333" dominant-baseline="central" textLength="7.06" lengthAdjust="spacingAndGlyphs" >40</text>
<line x1="382.8" y1="477.1" x2="385.8" y2="477.1" stroke="#2a2a2a" stroke-width="1" />
<text x="379.3" y="477.1" font-size="6.9" text-anchor="end" fill="#333333" dominant-baseline="central" textLength="7.06" lengthAdjust="spacingAndGlyphs" >60</text>
<line x1="382.8" y1="464" x2="385.8" y2="464" stroke="#2a2a2a" stroke-width="1" />
<text x="379.3" y="464" font-size="6.9" text-anchor="end" fill="#333333" dominant-baseline="central" textLength="7.06" lengthAdjust="spacingAndGlyphs" >80</text>
<line x1="382.8" y1="450.9" x2="385.8" y2="450.9" stroke="#2a2a2a" stroke-width="1" />
<text x="379.3" y="450.9" font-size="6.9" text-anchor="end" fill="#333333" dominant-baseline="central" textLength="10.59" lengthAdjust="spacingAndGlyphs" >100</text>
<line x1="385.2" y1="516.4" x2="449.3" y2="516.4" stroke="#2a2a2a" stroke-width="1.35" />
<line x1="393.85" y1="516.4" x2="393.85" y2="519.4" stroke="#2a2a2a" stroke-width="0.9" />
<text x="393.85" y="525.4" font-size="6.9" text-anchor="middle" fill="#333333" dominant-baseline="central" textLength="3.53" lengthAdjust="spacingAndGlyphs" >4</text>
<line x1="410.18" y1="516.4" x2="410.18" y2="519.4" stroke="#2a2a2a" stroke-width="0.9" />
<text x="410.18" y="525.4" font-size="6.9" text-anchor="middle" fill="#333333" dominant-baseline="central" textLength="3.53" lengthAdjust="spacingAndGlyphs" >8</text>
<line x1="426.51" y1="516.4" x2="426.51" y2="519.4" stroke="#2a2a2a" stroke-width="0.9" />
<text x="426.51" y="525.4" font-size="6.9" text-anchor="middle" fill="#333333" dominant-baseline="central" textLength="7.06" lengthAdjust="spacingAndGlyphs" >12</text>
<line x1="442.84" y1="516.4" x2="442.84" y2="519.4" stroke="#2a2a2a" stroke-width="0.9" />
<text x="442.84" y="525.4" font-size="6.9" text-anchor="middle" fill="#333333" dominant-baseline="central" textLength="7.06" lengthAdjust="spacingAndGlyphs" >16</text>
<text x="361.2" y="482.5" font-size="8.6" text-anchor="middle" fill="#1f1f1f" dominant-baseline="central" textLength="56.4" lengthAdjust="spacingAndGlyphs" transform="rotate(-90 361.2 482.5)" >% of donor-derived</text>
<line x1="393.85" y1="513" x2="393.85" y2="515" stroke="#3a3a6a" stroke-width="0.7" />
<line x1="392.75" y1="513" x2="394.95" y2="513" stroke="#3a3a6a" stroke-width="0.7" />
<line x1="392.75" y1="515" x2="394.95" y2="515" stroke="#3a3a6a" stroke-width="0.7" />
<line x1="410.18" y1="510.6" x2="410.18" y2="512.5" stroke="#3a3a6a" stroke-width="0.7" />
<line x1="409.08" y1="510.6" x2="411.28" y2="510.6" stroke="#3a3a6a" stroke-width="0.7" />
<line x1="409.08" y1="512.5" x2="411.28" y2="512.5" stroke="#3a3a6a" stroke-width="0.7" />
<line x1="426.51" y1="507.5" x2="426.51" y2="511" stroke="#3a3a6a" stroke-width="0.7" />
<line x1="425.41" y1="507.5" x2="427.61" y2="507.5" stroke="#3a3a6a" stroke-width="0.7" />
<line x1="425.41" y1="511" x2="427.61" y2="511" stroke="#3a3a6a" stroke-width="0.7" />
<line x1="442.84" y1="504" x2="442.84" y2="510.25" stroke="#3a3a6a" stroke-width="0.7" />
<line x1="441.74" y1="504" x2="443.94" y2="504" stroke="#3a3a6a" stroke-width="0.7" />
<line x1="441.74" y1="510.25" x2="443.94" y2="510.25" stroke="#3a3a6a" stroke-width="0.7" />
<polyline points="393.85,515 410.18,512.5 426.51,511 442.84,510.25" fill="none" stroke="#b04060" stroke-width="1.2" stroke-opacity="0.6"/>
<polyline points="393.85,515 410.18,512.5 426.51,511 442.84,510.25" fill="none" stroke="#2b3468" stroke-width="1.0"/>
<circle cx="393.85" cy="515" r="1" fill="#2b2f60"/>
<circle cx="410.18" cy="512.5" r="1" fill="#2b2f60"/>
<circle cx="426.51" cy="511" r="1" fill="#2b2f60"/>
<circle cx="442.84" cy="510.25" r="1" fill="#2b2f60"/>
<text x="52.6" y="457.8" font-size="7.1" font-style="italic" fill="#C8203F" textLength="21.2" lengthAdjust="spacingAndGlyphs">Slc23a2</text>
<text x="74.2" y="454.8" font-size="4.54" font-style="italic" fill="#C8203F" textLength="8" lengthAdjust="spacingAndGlyphs">fl/fl</text>
<text x="83" y="457.8" font-size="7.1" font-style="italic" fill="#C8203F" textLength="28.2" lengthAdjust="spacingAndGlyphs">;Mx1-Cre</text>
<text x="52.6" y="502.2" font-size="7.1" font-style="italic" fill="#2F5D8E" textLength="21.2" lengthAdjust="spacingAndGlyphs">Slc23a2</text>
<text x="74.2" y="499.2" font-size="4.54" font-style="italic" fill="#2F5D8E" textLength="8" lengthAdjust="spacingAndGlyphs">fl/fl</text>
<text x="248.75" y="537" font-size="8.8" text-anchor="middle" fill="#1f1f1f" dominant-baseline="central" textLength="81.3" lengthAdjust="spacingAndGlyphs" stroke="#1f1f1f" stroke-width="0.15">Weeks after transplantation</text>
<text x="6.8" y="561.4" font-size="11" font-weight="bold" fill="#111">X</text>
<text x="130.25" y="557.8" font-size="8.5" text-anchor="middle" fill="#262626" dominant-baseline="central" textLength="55.5" lengthAdjust="spacingAndGlyphs" stroke="#262626" stroke-width="0.08">BM Chimerism</text>
<line x1="44.2" y1="566.2" x2="44.2" y2="648.9" stroke="#2a2a2a" stroke-width="1.2" />
<line x1="41.2" y1="648.3" x2="44.2" y2="648.3" stroke="#2a2a2a" stroke-width="1" />
<text x="37.9" y="648.3" font-size="6.9" text-anchor="end" fill="#333333" dominant-baseline="central" textLength="3.53" lengthAdjust="spacingAndGlyphs" >0</text>
<line x1="41.2" y1="635.1" x2="44.2" y2="635.1" stroke="#2a2a2a" stroke-width="1" />
<text x="37.9" y="635.1" font-size="6.9" text-anchor="end" fill="#333333" dominant-baseline="central" textLength="7.06" lengthAdjust="spacingAndGlyphs" >20</text>
<line x1="41.2" y1="621.9" x2="44.2" y2="621.9" stroke="#2a2a2a" stroke-width="1" />
<text x="37.9" y="621.9" font-size="6.9" text-anchor="end" fill="#333333" dominant-baseline="central" textLength="7.06" lengthAdjust="spacingAndGlyphs" >40</text>
<line x1="41.2" y1="608.7" x2="44.2" y2="608.7" stroke="#2a2a2a" stroke-width="1" />
<text x="37.9" y="608.7" font-size="6.9" text-anchor="end" fill="#333333" dominant-baseline="central" textLength="7.06" lengthAdjust="spacingAndGlyphs" >60</text>
<line x1="41.2" y1="595.5" x2="44.2" y2="595.5" stroke="#2a2a2a" stroke-width="1" />
<text x="37.9" y="595.5" font-size="6.9" text-anchor="end" fill="#333333" dominant-baseline="central" textLength="7.06" lengthAdjust="spacingAndGlyphs" >80</text>
<line x1="41.2" y1="582.3" x2="44.2" y2="582.3" stroke="#2a2a2a" stroke-width="1" />
<text x="37.9" y="582.3" font-size="6.9" text-anchor="end" fill="#333333" dominant-baseline="central" textLength="10.59" lengthAdjust="spacingAndGlyphs" >100</text>
<line x1="41.2" y1="569.1" x2="44.2" y2="569.1" stroke="#2a2a2a" stroke-width="1" />
<text x="37.9" y="569.1" font-size="6.9" text-anchor="end" fill="#333333" dominant-baseline="central" textLength="10.59" lengthAdjust="spacingAndGlyphs" >120</text>
<line x1="43.6" y1="648.3" x2="215.5" y2="648.3" stroke="#2a2a2a" stroke-width="1.3" />
<text x="19.3" y="607.3" font-size="8.6" text-anchor="middle" fill="#1f1f1f" dominant-baseline="central" textLength="56" lengthAdjust="spacingAndGlyphs" transform="rotate(-90 19.3 607.3)" >% of donor-derived</text>
<line x1="54.5" y1="648.3" x2="54.5" y2="650.8" stroke="#2a2a2a" stroke-width="0.9" />
<text x="54.5" y="657.2" font-size="7.2" text-anchor="middle" fill="#1f1f1f" dominant-baseline="central" textLength="14.44" lengthAdjust="spacingAndGlyphs" >HSC</text>
<line x1="76.25" y1="648.3" x2="76.25" y2="650.8" stroke="#2a2a2a" stroke-width="0.9" />
<text x="76.25" y="657.2" font-size="7.2" text-anchor="middle" fill="#1f1f1f" dominant-baseline="central" textLength="14.82" lengthAdjust="spacingAndGlyphs" >MPP</text>
<line x1="98" y1="648.3" x2="98" y2="650.8" stroke="#2a2a2a" stroke-width="0.9" />
<text x="98" y="657.2" font-size="7.2" text-anchor="middle" fill="#1f1f1f" dominant-baseline="central" textLength="18.25" lengthAdjust="spacingAndGlyphs" >HPC1</text>
<line x1="119.5" y1="648.3" x2="119.5" y2="650.8" stroke="#2a2a2a" stroke-width="0.9" />
<text x="119.5" y="657.2" font-size="7.2" text-anchor="middle" fill="#1f1f1f" dominant-baseline="central" textLength="18.25" lengthAdjust="spacingAndGlyphs" >HPC2</text>
<line x1="141.25" y1="648.3" x2="141.25" y2="650.8" stroke="#2a2a2a" stroke-width="0.9" />
<text x="141.25" y="657.2" font-size="7.2" text-anchor="middle" fill="#1f1f1f" dominant-baseline="central" textLength="13.31" lengthAdjust="spacingAndGlyphs" >CLP</text>
<line x1="162.5" y1="648.3" x2="162.5" y2="650.8" stroke="#2a2a2a" stroke-width="0.9" />
<text x="162.5" y="657.2" font-size="7.2" text-anchor="middle" fill="#1f1f1f" dominant-baseline="central" textLength="15.2" lengthAdjust="spacingAndGlyphs" >CMP</text>
<line x1="184.25" y1="648.3" x2="184.25" y2="650.8" stroke="#2a2a2a" stroke-width="0.9" />
<text x="184.25" y="657.2" font-size="7.2" text-anchor="middle" fill="#1f1f1f" dominant-baseline="central" textLength="15.58" lengthAdjust="spacingAndGlyphs" >GMP</text>
<line x1="205.5" y1="648.3" x2="205.5" y2="650.8" stroke="#2a2a2a" stroke-width="0.9" />
<text x="205.5" y="657.2" font-size="7.2" text-anchor="middle" fill="#1f1f1f" dominant-baseline="central" textLength="14.82" lengthAdjust="spacingAndGlyphs" >MEP</text>
<line x1="54.5" y1="620.5" x2="54.5" y2="633.25" stroke="#24436f" stroke-width="0.8" />
<line x1="53.2" y1="620.5" x2="55.8" y2="620.5" stroke="#24436f" stroke-width="0.8" />
<line x1="53.2" y1="633.25" x2="55.8" y2="633.25" stroke="#24436f" stroke-width="0.8" />
<line x1="76.25" y1="618.75" x2="76.25" y2="632.5" stroke="#24436f" stroke-width="0.8" />
<line x1="74.95" y1="618.75" x2="77.55" y2="618.75" stroke="#24436f" stroke-width="0.8" />
<line x1="74.95" y1="632.5" x2="77.55" y2="632.5" stroke="#24436f" stroke-width="0.8" />
<line x1="98" y1="613" x2="98" y2="630" stroke="#24436f" stroke-width="0.8" />
<line x1="96.7" y1="613" x2="99.3" y2="613" stroke="#24436f" stroke-width="0.8" />
<line x1="96.7" y1="630" x2="99.3" y2="630" stroke="#24436f" stroke-width="0.8" />
<line x1="119.5" y1="611.75" x2="119.5" y2="630" stroke="#24436f" stroke-width="0.8" />
<line x1="118.2" y1="611.75" x2="120.8" y2="611.75" stroke="#24436f" stroke-width="0.8" />
<line x1="118.2" y1="630" x2="120.8" y2="630" stroke="#24436f" stroke-width="0.8" />
<line x1="141.25" y1="623" x2="141.25" y2="632" stroke="#24436f" stroke-width="0.8" />
<line x1="139.95" y1="623" x2="142.55" y2="623" stroke="#24436f" stroke-width="0.8" />
<line x1="139.95" y1="632" x2="142.55" y2="632" stroke="#24436f" stroke-width="0.8" />
<line x1="162.5" y1="612.5" x2="162.5" y2="630" stroke="#24436f" stroke-width="0.8" />
<line x1="161.2" y1="612.5" x2="163.8" y2="612.5" stroke="#24436f" stroke-width="0.8" />
<line x1="161.2" y1="630" x2="163.8" y2="630" stroke="#24436f" stroke-width="0.8" />
<line x1="184.25" y1="615.75" x2="184.25" y2="632.5" stroke="#24436f" stroke-width="0.8" />
<line x1="182.95" y1="615.75" x2="185.55" y2="615.75" stroke="#24436f" stroke-width="0.8" />
<line x1="182.95" y1="632.5" x2="185.55" y2="632.5" stroke="#24436f" stroke-width="0.8" />
<line x1="205.5" y1="612.5" x2="205.5" y2="630.75" stroke="#24436f" stroke-width="0.8" />
<line x1="204.2" y1="612.5" x2="206.8" y2="612.5" stroke="#24436f" stroke-width="0.8" />
<line x1="204.2" y1="630.75" x2="206.8" y2="630.75" stroke="#24436f" stroke-width="0.8" />
<line x1="54.5" y1="595" x2="54.5" y2="615" stroke="#C8203F" stroke-width="0.8" />
<line x1="53.2" y1="595" x2="55.8" y2="595" stroke="#C8203F" stroke-width="0.8" />
<line x1="53.2" y1="615" x2="55.8" y2="615" stroke="#C8203F" stroke-width="0.8" />
<line x1="76.25" y1="586.25" x2="76.25" y2="594.5" stroke="#C8203F" stroke-width="0.8" />
<line x1="74.95" y1="586.25" x2="77.55" y2="586.25" stroke="#C8203F" stroke-width="0.8" />
<line x1="74.95" y1="594.5" x2="77.55" y2="594.5" stroke="#C8203F" stroke-width="0.8" />
<line x1="98" y1="583" x2="98" y2="586.25" stroke="#C8203F" stroke-width="0.8" />
<line x1="96.7" y1="583" x2="99.3" y2="583" stroke="#C8203F" stroke-width="0.8" />
<line x1="96.7" y1="586.25" x2="99.3" y2="586.25" stroke="#C8203F" stroke-width="0.8" />
<line x1="119.5" y1="580.5" x2="119.5" y2="589.5" stroke="#C8203F" stroke-width="0.8" />
<line x1="118.2" y1="580.5" x2="120.8" y2="580.5" stroke="#C8203F" stroke-width="0.8" />
<line x1="118.2" y1="589.5" x2="120.8" y2="589.5" stroke="#C8203F" stroke-width="0.8" />
<line x1="141.25" y1="580.2" x2="141.25" y2="583" stroke="#C8203F" stroke-width="0.8" />
<line x1="139.95" y1="580.2" x2="142.55" y2="580.2" stroke="#C8203F" stroke-width="0.8" />
<line x1="139.95" y1="583" x2="142.55" y2="583" stroke="#C8203F" stroke-width="0.8" />
<line x1="162.5" y1="582" x2="162.5" y2="583" stroke="#C8203F" stroke-width="0.8" />
<line x1="161.2" y1="582" x2="163.8" y2="582" stroke="#C8203F" stroke-width="0.8" />
<line x1="161.2" y1="583" x2="163.8" y2="583" stroke="#C8203F" stroke-width="0.8" />
<line x1="184.25" y1="582" x2="184.25" y2="583" stroke="#C8203F" stroke-width="0.8" />
<line x1="182.95" y1="582" x2="185.55" y2="582" stroke="#C8203F" stroke-width="0.8" />
<line x1="182.95" y1="583" x2="185.55" y2="583" stroke="#C8203F" stroke-width="0.8" />
<line x1="205.5" y1="582" x2="205.5" y2="583.75" stroke="#C8203F" stroke-width="0.8" />
<line x1="204.2" y1="582" x2="206.8" y2="582" stroke="#C8203F" stroke-width="0.8" />
<line x1="204.2" y1="583.75" x2="206.8" y2="583.75" stroke="#C8203F" stroke-width="0.8" />
<polyline points="54.5,615 76.25,594.5 98,586.25 119.5,589.5 141.25,583 162.5,583 184.25,583 205.5,583.75" fill="none" stroke="#C8203F" stroke-width="1.2"/>
<polyline points="54.5,633.25 76.25,632.5 98,630 119.5,630 141.25,632 162.5,630 184.25,632.5 205.5,630.75" fill="none" stroke="#23416e" stroke-width="1.2"/>
<circle cx="54.5" cy="615" r="1.35" fill="#C8203F"/>
<circle cx="76.25" cy="594.5" r="1.35" fill="#C8203F"/>
<circle cx="98" cy="586.25" r="1.35" fill="#C8203F"/>
<circle cx="119.5" cy="589.5" r="1.35" fill="#C8203F"/>
<circle cx="141.25" cy="583" r="1.35" fill="#C8203F"/>
<circle cx="162.5" cy="583" r="1.35" fill="#C8203F"/>
<circle cx="184.25" cy="583" r="1.35" fill="#C8203F"/>
<circle cx="205.5" cy="583.75" r="1.35" fill="#C8203F"/>
<circle cx="54.5" cy="633.25" r="1.35" fill="#244a7c"/>
<circle cx="76.25" cy="632.5" r="1.35" fill="#244a7c"/>
<circle cx="98" cy="630" r="1.35" fill="#244a7c"/>
<circle cx="119.5" cy="630" r="1.35" fill="#244a7c"/>
<circle cx="141.25" cy="632" r="1.35" fill="#244a7c"/>
<circle cx="162.5" cy="630" r="1.35" fill="#244a7c"/>
<circle cx="184.25" cy="632.5" r="1.35" fill="#244a7c"/>
<circle cx="205.5" cy="630.75" r="1.35" fill="#244a7c"/>
<path d="M54.5 591.05L54.5 592.95M55.32 591.52L53.68 592.48M55.32 592.48L53.68 591.52" stroke="#3a3a3a" stroke-width="0.75" fill="none"/>
<path d="M72.35 582.65L72.35 584.55M73.17 583.12L71.53 584.08M73.17 584.08L71.53 583.12" stroke="#3a3a3a" stroke-width="0.75" fill="none"/>
<path d="M74.95 582.65L74.95 584.55M75.77 583.12L74.13 584.08M75.77 584.08L74.13 583.12" stroke="#3a3a3a" stroke-width="0.75" fill="none"/>
<path d="M77.55 582.65L77.55 584.55M78.37 583.12L76.73 584.08M78.37 584.08L76.73 583.12" stroke="#3a3a3a" stroke-width="0.75" fill="none"/>
<path d="M80.15 582.65L80.15 584.55M80.97 583.12L79.33 584.08M80.97 584.08L79.33 583.12" stroke="#3a3a3a" stroke-width="0.75" fill="none"/>
<path d="M94.1 579.05L94.1 580.95M94.92 579.52L93.28 580.48M94.92 580.48L93.28 579.52" stroke="#3a3a3a" stroke-width="0.75" fill="none"/>
<path d="M96.7 579.05L96.7 580.95M97.52 579.52L95.88 580.48M97.52 580.48L95.88 579.52" stroke="#3a3a3a" stroke-width="0.75" fill="none"/>
<path d="M99.3 579.05L99.3 580.95M100.12 579.52L98.48 580.48M100.12 580.48L98.48 579.52" stroke="#3a3a3a" stroke-width="0.75" fill="none"/>
<path d="M101.9 579.05L101.9 580.95M102.72 579.52L101.08 580.48M102.72 580.48L101.08 579.52" stroke="#3a3a3a" stroke-width="0.75" fill="none"/>
<path d="M115.6 577.05L115.6 578.95M116.42 577.52L114.78 578.48M116.42 578.48L114.78 577.52" stroke="#3a3a3a" stroke-width="0.75" fill="none"/>
<path d="M118.2 577.05L118.2 578.95M119.02 577.52L117.38 578.48M119.02 578.48L117.38 577.52" stroke="#3a3a3a" stroke-width="0.75" fill="none"/>
<path d="M120.8 577.05L120.8 578.95M121.62 577.52L119.98 578.48M121.62 578.48L119.98 577.52" stroke="#3a3a3a" stroke-width="0.75" fill="none"/>
<path d="M123.4 577.05L123.4 578.95M124.22 577.52L122.58 578.48M124.22 578.48L122.58 577.52" stroke="#3a3a3a" stroke-width="0.75" fill="none"/>
<path d="M141.25 578.35L141.25 580.25M142.07 578.82L140.43 579.77M142.07 579.77L140.43 578.82" stroke="#3a3a3a" stroke-width="0.75" fill="none"/>
<path d="M158.6 578.35L158.6 580.25M159.42 578.82L157.78 579.77M159.42 579.77L157.78 578.82" stroke="#3a3a3a" stroke-width="0.75" fill="none"/>
<path d="M161.2 578.35L161.2 580.25M162.02 578.82L160.38 579.77M162.02 579.77L160.38 578.82" stroke="#3a3a3a" stroke-width="0.75" fill="none"/>
<path d="M163.8 578.35L163.8 580.25M164.62 578.82L162.98 579.77M164.62 579.77L162.98 578.82" stroke="#3a3a3a" stroke-width="0.75" fill="none"/>
<path d="M166.4 578.35L166.4 580.25M167.22 578.82L165.58 579.77M167.22 579.77L165.58 578.82" stroke="#3a3a3a" stroke-width="0.75" fill="none"/>
<path d="M180.35 578.35L180.35 580.25M181.17 578.82L179.53 579.77M181.17 579.77L179.53 578.82" stroke="#3a3a3a" stroke-width="0.75" fill="none"/>
<path d="M182.95 578.35L182.95 580.25M183.77 578.82L182.13 579.77M183.77 579.77L182.13 578.82" stroke="#3a3a3a" stroke-width="0.75" fill="none"/>
<path d="M185.55 578.35L185.55 580.25M186.37 578.82L184.73 579.77M186.37 579.77L184.73 578.82" stroke="#3a3a3a" stroke-width="0.75" fill="none"/>
<path d="M188.15 578.35L188.15 580.25M188.97 578.82L187.33 579.77M188.97 579.77L187.33 578.82" stroke="#3a3a3a" stroke-width="0.75" fill="none"/>
<path d="M201.6 578.35L201.6 580.25M202.42 578.82L200.78 579.77M202.42 579.77L200.78 578.82" stroke="#3a3a3a" stroke-width="0.75" fill="none"/>
<path d="M204.2 578.35L204.2 580.25M205.02 578.82L203.38 579.77M205.02 579.77L203.38 578.82" stroke="#3a3a3a" stroke-width="0.75" fill="none"/>
<path d="M206.8 578.35L206.8 580.25M207.62 578.82L205.98 579.77M207.62 579.77L205.98 578.82" stroke="#3a3a3a" stroke-width="0.75" fill="none"/>
<path d="M209.4 578.35L209.4 580.25M210.22 578.82L208.58 579.77M210.22 579.77L208.58 578.82" stroke="#3a3a3a" stroke-width="0.75" fill="none"/>
<rect x="0" y="0" width="520" height="1" fill="#5c5c5c"/>
<rect x="0" y="0" width="1.2" height="668" fill="#4a4a4a"/>
<rect x="518.9" y="0" width="1.1" height="668" fill="#3a3a3a"/>
<rect x="0" y="666.6" width="520" height="1.4" fill="#2e2e2e"/>
</svg>
</body></html>
